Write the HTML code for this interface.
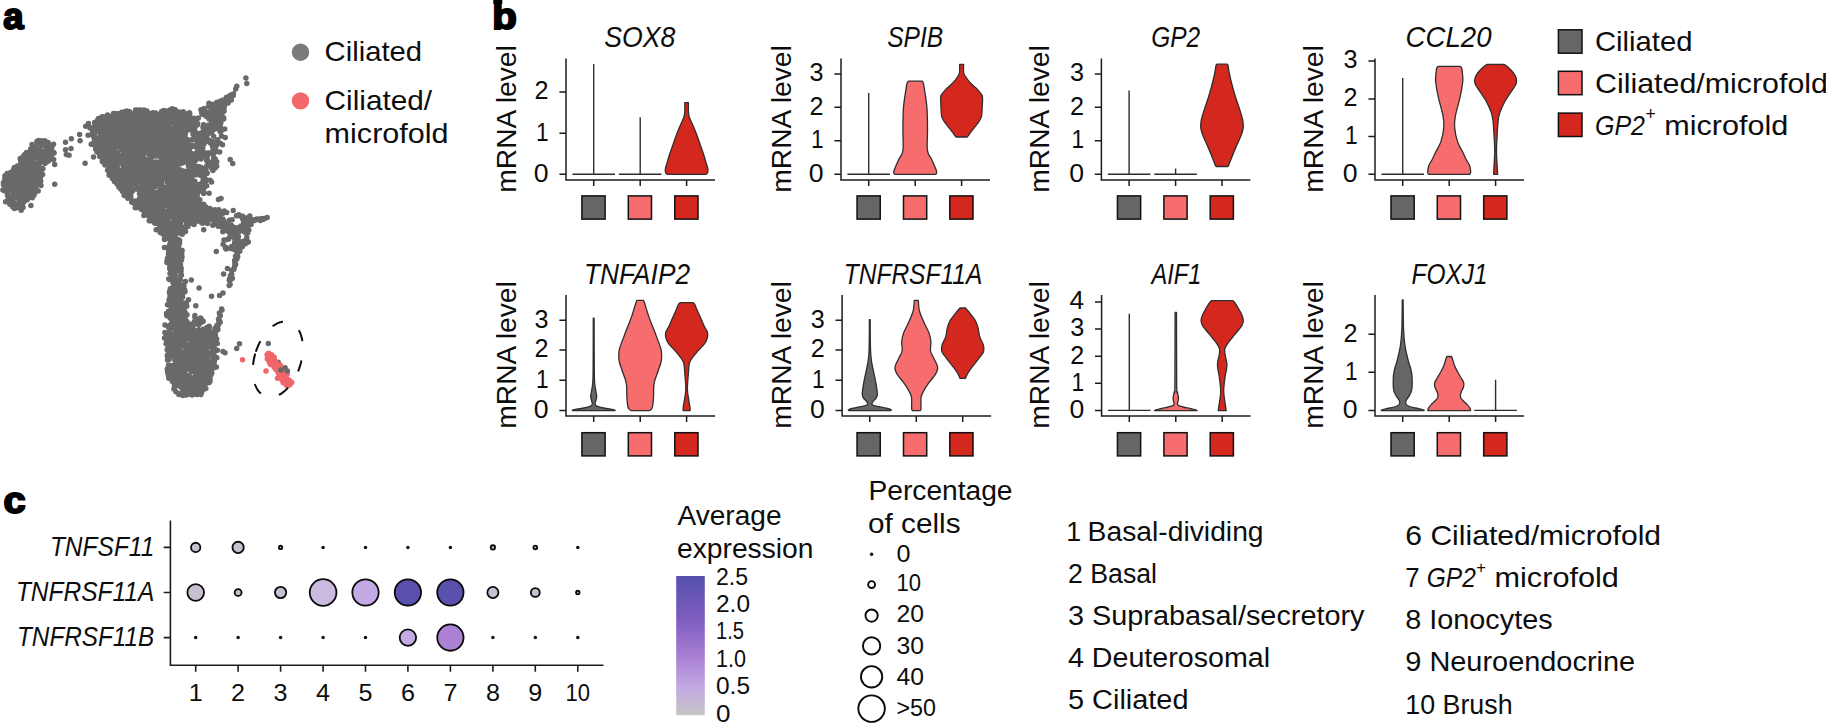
<!DOCTYPE html>
<html lang="en"><head><meta charset="utf-8"><title>Figure</title>
<style>html,body{margin:0;padding:0;background:#fff;overflow:hidden}svg{display:block}</style></head>
<body>
<svg width="1826" height="724" viewBox="0 0 1826 724" font-family='"Liberation Sans", sans-serif' fill="#0d0d0d">
<rect width="1826" height="724" fill="#fff"/>
<text transform="translate(3.3 29.2) scale(1.0 1)" font-size="36.5" font-weight="bold" fill="#000" stroke="#000" stroke-width="2" stroke-linejoin="round">a</text>
<text transform="translate(492.2 29.2) scale(1.1 1)" font-size="36.5" font-weight="bold" fill="#000" stroke="#000" stroke-width="2" stroke-linejoin="round">b</text>
<text transform="translate(3.4 513.2) scale(1.09 1)" font-size="36.5" font-weight="bold" fill="#000" stroke="#000" stroke-width="2" stroke-linejoin="round">c</text>
<rect x="493.3" y="0" width="9" height="4" fill="#000"/>
<path d="M143.6 139.6h0M178.9 205.2h0M101.4 121.3h0M110.4 161.7h0M194.1 382.8h0M185.7 214.7h0M113.8 129.6h0M196.0 207.3h0M180.8 112.8h0M99.7 156.5h0M206.0 168.1h0M166.5 144.9h0M158.8 203.1h0M114.9 147.4h0M128.4 164.8h0M170.4 273.4h0M159.4 206.3h0M183.9 384.5h0M222.4 213.4h0M156.1 125.2h0M124.5 143.1h0M114.9 124.6h0M114.5 170.6h0M147.5 204.7h0M170.2 119.8h0M178.3 331.4h0M144.6 161.7h0M248.8 230.1h0M150.4 160.9h0M127.5 153.6h0M169.5 292.9h0M199.6 371.3h0M169.2 148.1h0M155.6 216.1h0M118.1 132.4h0M199.0 200.5h0M181.0 133.6h0M245.0 226.0h0M124.9 170.5h0M138.5 167.0h0M187.3 172.8h0M159.4 133.6h0M242.3 246.7h0M162.9 149.5h0M182.1 333.0h0M131.1 178.1h0M183.2 325.5h0M241.5 228.9h0M174.9 305.0h0M206.0 361.1h0M182.8 381.5h0M199.5 137.2h0M175.5 197.1h0M122.3 190.8h0M181.9 228.0h0M134.7 133.1h0M184.6 307.4h0M233.2 232.1h0M129.4 127.0h0M123.3 188.8h0M181.4 151.4h0M225.9 225.5h0M172.1 348.3h0M195.5 217.1h0M132.3 143.4h0M136.7 167.5h0M141.2 202.4h0M168.7 247.0h0M140.4 164.7h0M208.8 361.9h0M154.5 193.1h0M211.8 341.5h0M173.6 348.4h0M186.9 366.1h0M178.8 294.8h0M131.7 116.3h0M102.7 138.6h0M167.0 235.9h0M166.1 343.8h0M164.5 175.6h0M226.1 248.9h0M239.0 242.0h0M171.5 231.2h0M140.0 136.5h0M147.0 190.1h0M214.6 349.7h0M208.3 368.8h0M138.0 207.2h0M187.7 203.7h0M160.9 177.6h0M97.8 124.6h0M181.1 313.2h0M146.9 184.5h0M155.3 144.7h0M116.7 157.0h0M240.4 245.3h0M113.0 152.3h0M184.5 364.4h0M214.4 219.6h0M152.4 196.8h0M173.5 285.8h0M134.8 169.4h0M156.2 229.7h0M207.7 367.0h0M107.9 140.7h0M176.6 301.8h0M140.3 132.7h0M205.9 127.8h0M186.7 212.0h0M196.9 363.3h0M168.8 165.3h0M172.6 299.4h0M159.6 172.1h0M200.7 376.0h0M203.2 154.1h0M173.7 156.2h0M172.2 150.8h0M200.4 383.2h0M152.7 207.7h0M144.9 145.3h0M217.2 106.0h0M214.0 367.8h0M146.2 176.7h0M142.4 177.7h0M154.0 170.2h0M190.7 193.6h0M142.9 204.0h0M219.8 117.7h0M130.9 113.4h0M133.8 119.3h0M214.1 352.1h0M184.0 207.4h0M130.9 168.5h0M185.9 193.2h0M174.1 164.2h0M168.7 343.6h0M109.6 151.5h0M233.8 230.7h0M113.3 155.9h0M198.1 155.7h0M202.5 150.1h0M141.7 155.7h0M100.3 124.5h0M196.0 121.4h0M157.9 180.1h0M149.2 220.7h0M236.5 234.3h0M181.5 289.1h0M193.2 206.8h0M173.6 138.1h0M171.3 339.2h0M192.9 345.3h0M120.2 160.2h0M153.6 131.2h0M183.3 324.8h0M181.2 285.0h0M186.6 223.5h0M168.4 126.3h0M120.1 142.8h0M178.0 287.8h0M185.8 203.5h0M200.1 189.0h0M148.8 126.1h0M149.2 162.0h0M168.7 134.7h0M114.6 122.8h0M195.9 359.5h0M219.8 216.3h0M178.1 217.5h0M129.3 111.4h0M181.4 380.8h0M113.4 154.5h0M196.4 341.8h0M127.4 125.7h0M205.3 351.6h0M181.8 226.7h0M133.1 165.7h0M200.4 392.4h0M167.8 349.9h0M205.7 355.3h0M184.6 187.5h0M147.1 136.9h0M107.6 156.4h0M195.2 345.4h0M194.8 181.3h0M106.4 123.5h0M151.0 191.5h0M179.2 159.7h0M171.5 336.8h0M137.0 159.1h0M148.9 216.1h0M173.1 209.4h0M147.7 193.3h0M121.6 185.6h0M206.7 351.1h0M115.5 141.2h0M130.9 193.3h0M176.6 142.7h0M144.3 151.4h0M107.6 156.6h0M185.2 322.2h0M159.8 163.4h0M209.8 362.2h0M194.4 169.9h0M160.2 232.5h0M193.1 218.5h0M202.0 377.5h0M219.1 212.2h0M179.7 312.5h0M174.9 288.7h0M159.4 222.0h0M133.9 162.1h0M177.4 160.4h0M223.0 213.2h0M125.0 133.1h0M183.2 162.6h0M196.0 343.5h0M130.5 185.7h0M169.5 224.4h0M131.4 124.6h0M113.5 164.9h0M133.8 165.1h0M172.6 258.3h0M233.2 95.6h0M170.4 367.5h0M193.7 196.9h0M168.7 254.0h0M162.1 222.5h0M181.9 345.9h0M142.5 184.9h0M220.1 105.8h0M209.9 363.9h0M216.6 124.5h0M198.8 206.2h0M183.2 172.3h0M196.5 378.6h0M96.3 129.9h0M242.5 229.9h0M188.2 379.8h0M158.3 124.7h0M196.9 158.4h0M208.4 354.7h0M170.6 111.8h0M194.5 221.2h0M184.0 182.8h0M206.7 346.1h0M189.7 187.8h0M189.8 367.1h0M184.9 177.2h0M203.6 372.5h0M147.4 119.6h0M181.8 337.0h0M167.1 156.7h0M186.1 367.3h0M187.7 151.3h0M121.8 148.7h0M170.6 266.7h0M217.3 343.5h0M123.2 148.8h0M182.4 359.3h0M189.2 214.9h0M196.3 385.5h0M201.1 213.6h0M164.3 142.3h0M132.3 201.0h0M197.3 394.4h0M99.1 137.8h0M202.3 184.8h0M188.1 324.9h0M132.5 131.5h0M169.8 145.0h0M129.4 137.3h0M209.0 153.1h0M165.0 197.3h0M194.2 137.2h0M126.6 110.9h0M115.7 176.3h0M200.9 158.0h0M169.2 181.0h0M132.6 155.1h0M184.8 135.7h0M208.1 153.6h0M103.0 120.3h0M135.3 156.5h0M123.4 113.7h0M211.6 218.2h0M150.8 143.5h0M175.1 255.5h0M120.1 124.9h0M94.8 123.0h0M206.0 153.1h0M97.3 131.2h0M171.8 246.4h0M136.3 130.8h0M157.2 135.4h0M188.2 356.4h0M213.9 143.8h0M154.4 221.9h0M129.8 195.9h0M195.0 204.8h0M178.0 114.7h0M93.3 136.1h0M195.0 340.6h0M137.6 186.8h0M188.6 385.4h0M175.2 175.5h0M110.4 133.7h0M137.7 167.9h0M184.6 292.1h0M141.4 167.5h0M218.1 142.0h0M162.9 112.5h0M108.0 162.3h0M192.2 353.0h0M153.7 191.9h0M172.8 229.1h0M120.4 186.4h0M186.5 120.4h0M175.8 251.5h0M203.7 212.5h0M185.2 362.1h0M177.9 342.6h0M175.0 127.3h0M115.8 182.1h0M174.8 247.7h0M121.1 149.3h0M200.8 153.6h0M172.5 262.5h0M185.3 219.1h0M110.0 141.4h0M216.0 126.1h0M106.4 145.6h0M176.6 344.8h0M191.7 339.8h0M118.0 175.0h0M186.6 200.1h0M164.6 211.3h0M186.6 386.5h0M189.9 386.6h0M126.6 188.0h0M235.3 241.4h0M153.9 216.7h0M100.7 131.2h0M130.5 152.0h0M136.9 166.0h0M146.5 141.2h0M209.9 208.6h0M173.7 163.0h0M165.0 133.6h0M207.2 173.2h0M187.5 205.9h0M180.0 176.1h0M218.1 211.0h0M139.2 113.7h0M141.5 162.7h0M206.0 169.4h0M116.7 154.1h0M184.6 312.3h0M214.4 119.9h0M205.3 213.7h0M214.0 346.5h0M136.5 121.0h0M247.1 223.0h0M212.6 346.9h0M216.4 106.9h0M206.6 339.5h0M180.2 169.8h0M158.2 155.1h0M141.4 135.3h0M129.3 167.4h0M175.5 229.4h0M180.9 325.7h0M137.9 203.6h0M124.1 112.0h0M136.5 153.8h0M167.7 204.4h0M117.7 115.5h0M214.5 119.2h0M183.5 126.8h0M171.1 226.1h0M131.6 168.7h0M139.0 150.3h0M195.9 351.7h0M143.0 206.1h0M181.4 206.3h0M194.2 343.8h0M207.1 369.9h0M160.5 180.0h0M159.8 197.0h0M117.1 183.9h0M147.7 153.2h0M192.8 341.2h0M191.0 184.3h0M184.7 384.4h0M169.7 291.2h0M139.5 198.4h0M164.1 119.6h0M199.6 207.1h0M186.3 220.7h0M108.8 148.7h0M131.9 122.6h0M178.0 170.4h0M171.1 262.7h0M187.6 118.1h0M157.6 116.0h0M181.3 311.7h0M215.6 128.6h0M154.9 145.9h0M218.8 111.2h0M125.2 185.1h0M207.4 223.6h0M193.0 359.8h0M183.4 373.6h0M132.1 152.5h0M186.4 128.3h0M93.3 127.3h0M181.9 182.1h0M204.0 209.8h0M179.3 304.0h0M95.7 149.2h0M202.7 213.4h0M168.9 141.9h0M186.1 195.5h0M135.1 177.0h0M172.9 173.6h0M150.1 179.5h0M195.4 200.6h0M181.3 217.5h0M169.8 205.7h0M130.3 165.3h0M147.8 135.0h0M165.1 229.6h0M184.3 185.9h0M117.9 113.8h0M139.9 187.8h0M103.1 148.2h0M186.3 395.0h0M117.2 175.4h0M206.9 160.2h0M156.2 154.7h0M190.0 357.3h0M197.5 153.6h0M189.7 117.8h0M146.5 135.3h0M197.7 217.3h0M193.9 195.7h0M172.0 276.1h0M183.6 395.0h0M105.3 141.3h0M198.7 329.9h0M182.1 149.1h0M114.6 147.8h0M172.7 287.7h0M166.3 192.4h0M197.1 216.2h0M183.6 218.7h0M194.0 162.0h0M131.7 173.7h0M161.9 164.2h0M196.6 184.7h0M184.5 141.4h0M93.9 127.6h0M212.1 123.4h0M170.8 135.0h0M161.0 148.2h0M203.7 138.8h0M172.3 374.0h0M147.9 159.3h0M119.3 174.4h0M174.4 218.2h0M182.3 204.3h0M181.0 304.3h0M209.1 215.5h0M153.9 218.7h0M191.3 208.7h0M129.8 154.2h0M181.0 189.9h0M213.8 354.1h0M174.6 274.4h0M180.1 161.7h0M191.6 174.5h0M169.0 161.1h0M177.7 253.5h0M177.5 341.8h0M129.5 146.2h0M196.3 346.1h0M110.2 140.6h0M131.6 125.0h0M176.4 231.8h0M164.5 239.6h0M146.3 209.9h0M143.7 167.4h0M195.5 355.7h0M163.3 205.7h0M197.5 341.1h0M148.4 211.2h0M186.0 375.9h0M144.6 115.2h0M172.3 368.7h0M166.7 234.7h0M229.3 220.2h0M168.5 365.3h0M212.9 216.2h0M181.8 328.4h0M106.7 120.5h0M135.4 173.7h0M141.8 171.4h0M174.7 221.9h0M171.1 271.8h0M178.4 218.4h0M183.7 192.3h0M188.9 148.6h0M202.0 183.6h0M124.2 124.4h0M247.8 220.2h0M199.3 172.2h0M138.6 164.6h0M186.5 190.9h0M183.0 140.6h0M177.3 182.3h0M172.3 377.4h0M179.7 120.6h0M113.0 176.4h0M164.5 169.1h0M213.2 148.2h0M175.1 123.3h0M197.3 133.9h0M185.9 201.3h0M117.0 145.4h0M169.6 139.1h0M178.9 129.5h0M167.6 143.7h0M178.8 248.3h0M150.8 153.9h0M156.9 155.7h0M110.9 166.8h0M234.6 246.7h0M184.6 303.9h0M115.3 174.2h0M175.9 182.7h0M188.7 332.9h0M246.1 219.3h0M157.5 120.5h0M202.6 139.8h0M147.0 136.4h0M122.7 160.6h0M169.5 245.4h0M147.8 143.1h0M187.9 226.5h0M178.2 382.3h0M207.9 213.2h0M203.3 381.0h0M188.7 348.8h0M165.8 196.0h0M138.4 120.5h0M150.0 162.0h0M148.4 124.4h0M181.7 356.8h0M175.2 208.6h0M202.2 370.5h0M172.6 204.6h0M182.4 230.2h0M214.4 104.3h0M143.8 135.4h0M180.3 222.0h0M135.9 143.0h0M185.4 345.7h0M212.5 145.7h0M122.6 191.5h0M162.6 126.7h0M134.2 155.9h0M240.8 231.0h0M177.8 181.6h0M194.5 172.9h0M218.0 106.2h0M133.9 167.9h0M197.0 388.8h0M218.5 214.0h0M146.6 213.4h0M146.1 113.7h0M185.8 216.8h0M185.2 177.2h0M173.0 367.8h0M191.6 177.6h0M125.2 161.9h0M194.4 136.0h0M135.5 111.6h0M224.0 105.7h0M146.3 194.6h0M184.3 160.1h0M219.1 102.3h0M173.7 223.0h0M187.7 162.7h0M165.4 197.9h0M136.8 152.9h0M162.7 153.9h0M206.8 153.6h0M100.2 156.4h0M133.6 202.1h0M97.2 147.1h0M106.8 126.2h0M169.0 344.4h0M111.1 126.8h0M124.6 170.5h0M207.8 382.1h0M211.5 210.8h0M193.6 363.8h0M170.3 288.8h0M124.0 167.9h0M110.8 154.6h0M162.9 114.2h0M168.0 215.7h0M189.4 112.7h0M96.2 122.2h0M215.6 125.3h0M182.2 344.3h0M173.3 282.8h0M188.6 337.6h0M180.5 182.4h0M165.9 130.9h0M197.8 156.8h0M161.1 127.3h0M148.4 122.3h0M211.2 352.9h0M150.9 186.0h0M190.6 392.3h0M102.3 128.3h0M176.2 232.7h0M197.6 373.3h0M211.6 336.7h0M203.0 353.0h0M131.8 185.3h0M147.7 192.6h0M178.0 292.0h0M179.3 379.9h0M204.4 388.9h0M104.7 158.4h0M131.1 172.1h0M124.6 172.8h0M205.3 186.4h0M113.4 128.0h0M119.4 124.1h0M228.1 103.0h0M113.7 123.2h0M126.9 113.4h0M108.3 169.4h0M127.0 152.8h0M168.2 359.0h0M118.7 164.0h0M163.0 129.7h0M182.0 115.4h0M183.3 359.2h0M177.0 166.8h0M125.1 119.0h0M165.1 190.6h0M149.8 130.1h0M162.8 136.5h0M186.7 380.3h0M174.8 383.0h0M193.0 159.6h0M183.2 310.8h0M112.7 167.0h0M114.6 135.4h0M176.6 271.0h0M128.7 144.7h0M199.8 356.1h0M246.4 218.0h0M137.9 181.8h0M109.2 168.0h0M184.6 149.0h0M204.8 171.6h0M176.9 300.3h0M201.5 337.6h0M197.4 148.6h0M126.8 159.2h0M159.7 117.3h0M186.6 381.2h0M185.7 202.2h0M189.7 352.9h0M178.7 315.1h0M135.1 115.0h0M128.0 174.5h0M93.0 128.5h0M169.4 172.5h0M98.9 119.2h0M116.8 121.5h0M171.5 151.1h0M98.3 140.6h0M204.9 211.2h0M209.0 163.6h0M128.2 122.1h0M112.8 152.4h0M186.6 126.5h0M195.2 167.1h0M178.4 314.7h0M126.5 182.4h0M192.0 368.8h0M123.8 188.6h0M199.9 173.2h0M116.0 162.7h0M141.3 189.9h0M191.1 120.8h0M235.6 234.5h0M122.7 130.1h0M174.0 252.7h0M177.8 330.3h0M107.5 115.0h0M126.7 190.7h0M169.1 311.0h0M155.3 122.3h0M112.2 126.1h0M101.5 143.6h0M178.2 347.9h0M117.9 146.6h0M216.9 223.5h0M146.0 131.2h0M109.2 172.8h0M212.9 365.8h0M111.3 152.7h0M131.0 171.5h0M143.2 146.3h0M150.6 207.9h0M148.4 209.0h0M108.1 162.9h0M195.5 364.4h0M198.8 209.8h0M179.4 196.3h0M180.8 232.7h0M127.5 115.2h0M194.9 366.7h0M185.1 125.9h0M187.4 346.7h0M176.0 241.3h0M200.4 157.1h0M150.0 204.5h0M161.2 121.8h0M176.8 344.0h0M161.8 209.8h0M207.8 377.4h0M123.3 185.7h0M173.0 297.6h0M223.3 223.0h0M189.9 172.7h0M175.1 236.5h0M246.7 228.7h0M202.4 137.0h0M122.9 142.8h0M140.2 143.0h0M126.1 119.5h0M121.9 190.0h0M173.7 149.6h0M169.5 227.8h0M246.8 237.5h0M113.8 145.2h0M160.5 201.0h0M204.6 213.2h0M242.7 216.2h0M161.7 184.6h0M181.9 295.9h0M156.7 149.3h0M222.8 101.8h0M172.2 204.5h0M178.2 377.2h0M145.1 211.7h0M191.0 333.5h0M179.4 177.8h0M114.2 163.2h0M181.4 375.0h0M161.9 152.5h0M214.1 355.6h0M153.9 122.0h0M189.0 391.7h0M108.5 143.1h0M201.6 389.5h0M162.0 212.9h0M131.9 164.6h0M119.7 140.1h0M185.5 231.4h0M189.7 196.4h0M183.0 137.1h0M222.4 220.0h0M210.9 218.4h0M142.4 208.5h0M171.0 177.6h0M185.1 370.5h0M187.3 224.0h0M197.6 123.4h0M171.9 313.9h0M136.0 206.7h0M202.7 109.9h0M179.7 319.6h0M152.4 169.6h0M225.2 103.8h0M169.2 120.1h0M120.6 135.3h0M145.7 143.6h0M231.9 229.0h0M157.1 144.8h0M171.8 175.3h0M186.6 388.7h0M123.8 131.4h0M183.4 383.0h0M203.7 204.2h0M181.7 156.4h0M174.1 129.7h0M203.5 376.4h0M187.8 345.2h0M175.5 192.3h0M199.8 384.6h0M181.4 203.2h0M113.3 141.9h0M173.4 268.9h0M182.9 219.6h0M129.9 121.9h0M169.2 211.9h0M228.5 231.7h0M173.4 375.5h0M101.4 118.7h0M144.9 120.7h0M174.9 379.5h0M130.4 140.8h0M140.5 192.6h0M161.1 144.3h0M97.3 131.0h0M145.5 124.9h0M174.7 144.9h0M122.8 120.4h0M145.5 174.8h0M161.4 141.1h0M171.0 152.8h0M168.5 136.7h0M170.2 132.4h0M185.9 391.6h0M208.9 128.8h0M170.1 196.6h0M187.5 161.5h0M173.5 221.4h0M200.2 150.2h0M178.2 177.8h0M174.7 208.1h0M207.6 343.4h0M170.0 316.7h0M149.3 187.1h0M201.2 388.6h0M145.8 126.7h0M170.8 206.3h0M208.1 366.9h0M162.8 222.2h0M120.3 141.8h0M160.8 152.3h0M239.8 227.7h0M154.6 209.4h0M138.6 154.7h0M185.3 191.9h0M174.6 130.9h0M125.2 188.6h0M159.0 204.5h0M187.4 208.7h0M153.0 163.1h0M193.7 331.0h0M105.3 121.4h0M174.2 181.9h0M174.7 244.3h0M149.3 196.0h0M137.0 119.4h0M178.2 193.6h0M156.6 143.0h0M164.0 217.5h0M172.4 237.8h0M122.6 146.4h0M184.8 161.4h0M184.0 323.5h0M109.9 142.3h0M138.4 178.7h0M127.6 121.5h0M191.6 356.7h0M166.9 333.5h0M165.6 153.6h0M213.6 347.3h0M155.6 162.0h0M168.2 248.3h0M170.0 208.6h0M186.0 160.1h0M225.3 226.9h0M201.7 384.4h0M121.2 124.3h0M114.6 161.1h0M179.2 227.8h0M173.5 349.0h0M179.2 160.0h0M210.6 163.3h0M185.0 291.4h0M204.7 140.4h0M181.3 317.3h0M131.1 119.3h0M131.8 119.9h0M171.1 170.0h0M209.9 128.4h0M144.5 126.6h0M205.7 331.8h0M215.6 219.3h0M141.7 115.8h0M163.0 227.0h0M229.9 237.0h0M145.8 132.7h0M180.5 340.2h0M151.1 148.4h0M158.8 130.9h0M176.7 185.2h0M162.2 163.2h0M197.2 347.7h0M136.1 127.0h0M135.7 140.2h0M176.1 223.4h0M103.3 121.2h0M159.1 170.5h0M172.4 150.6h0M162.4 179.6h0M187.1 184.9h0M172.2 163.5h0M173.5 313.2h0M151.9 219.4h0M191.5 155.9h0M119.0 172.7h0M97.0 151.9h0M154.8 223.3h0M175.5 151.0h0M167.2 349.7h0M208.6 380.1h0M168.8 189.0h0M201.1 145.6h0M140.1 175.2h0M162.2 209.5h0M130.7 181.1h0M181.2 341.7h0M185.1 331.4h0M184.0 193.1h0M207.2 377.8h0M163.8 234.5h0M203.4 366.0h0M111.0 135.0h0M171.7 195.6h0M194.8 146.5h0M129.3 186.6h0M171.5 214.2h0M205.8 388.5h0M157.0 124.8h0M211.4 337.9h0M189.2 128.9h0M189.4 359.4h0M185.7 209.2h0M192.3 194.9h0M180.1 376.9h0M184.0 372.4h0M207.0 382.6h0M221.1 103.0h0M197.5 337.9h0M187.3 384.9h0M153.9 199.2h0M182.6 329.8h0M180.8 376.8h0M115.7 134.4h0M186.3 130.8h0M195.1 347.7h0M203.5 352.7h0M184.0 177.7h0M200.1 360.2h0M146.4 167.5h0M206.0 132.4h0M153.8 183.0h0M125.4 192.9h0M245.9 230.8h0M184.0 356.8h0M132.4 172.5h0M217.5 141.4h0M169.8 210.3h0M152.3 131.3h0M167.6 372.0h0M167.7 219.1h0M152.2 220.2h0M185.6 365.3h0M150.6 126.4h0M253.1 219.8h0M160.6 169.9h0M183.4 156.8h0M98.7 142.2h0M204.3 209.7h0M140.0 114.0h0M181.8 293.3h0M128.5 150.3h0M196.0 124.2h0M145.4 164.0h0M229.9 97.5h0M139.9 164.5h0M185.0 342.5h0M180.4 212.1h0M181.3 324.2h0M201.0 156.5h0M122.7 188.4h0M146.8 122.9h0M185.8 146.4h0M211.4 129.2h0M183.1 171.4h0M143.2 154.2h0M125.1 129.2h0M150.8 130.1h0M119.7 169.9h0M177.2 329.9h0M190.9 123.7h0M172.6 296.6h0M109.4 139.0h0M177.6 146.8h0M193.3 356.4h0M110.8 160.0h0M180.5 380.9h0M189.7 124.1h0M168.2 341.5h0M202.4 223.3h0M171.7 243.5h0M134.0 166.6h0M184.5 365.2h0M174.8 250.1h0M141.8 131.4h0M242.8 241.4h0M188.7 330.3h0M124.7 126.1h0M197.5 331.5h0M175.6 265.2h0M171.9 324.6h0M185.0 133.0h0M160.6 222.2h0M149.9 213.0h0M160.7 207.0h0M150.8 166.6h0M167.1 192.4h0M154.2 164.9h0M188.5 394.3h0M192.3 124.0h0M187.6 222.1h0M211.2 130.8h0M127.8 198.2h0M185.0 192.7h0M190.5 127.4h0M195.9 198.2h0M95.4 131.5h0M183.0 145.8h0M187.2 177.7h0M117.3 152.3h0M111.7 158.8h0M203.1 210.0h0M134.9 134.8h0M177.3 156.7h0M161.8 114.6h0M133.0 158.2h0M144.1 169.5h0M138.2 179.1h0M117.1 172.4h0M177.6 344.5h0M187.2 224.7h0M139.2 124.4h0M203.1 179.7h0M135.1 120.1h0M191.6 200.4h0M108.2 146.7h0M238.4 236.5h0M203.9 335.9h0M157.7 141.0h0M199.3 191.0h0M112.0 143.9h0M156.7 132.3h0M181.6 216.8h0M109.3 171.5h0M179.3 124.4h0M207.1 336.4h0M142.5 138.0h0M151.6 198.4h0M213.7 363.0h0M150.0 177.2h0M140.5 119.5h0M106.9 135.9h0M217.8 141.3h0M177.5 368.5h0M214.0 215.1h0M169.4 178.4h0M202.9 186.4h0M171.1 353.0h0M208.5 344.9h0M110.3 116.9h0M184.5 191.8h0M163.7 187.7h0M190.0 199.4h0M210.6 345.7h0M102.3 131.3h0M147.2 132.1h0M126.6 161.3h0M168.1 235.2h0M171.0 147.2h0M144.5 186.8h0M187.8 345.6h0M178.7 385.7h0M183.0 203.7h0M185.8 378.6h0M113.7 117.4h0M166.1 336.1h0M201.1 350.9h0M243.0 227.7h0M188.1 224.5h0M208.3 133.8h0M161.5 166.0h0M187.5 392.9h0M124.6 116.5h0M201.1 206.6h0M160.2 150.4h0M166.9 261.4h0M144.4 161.6h0M245.8 226.9h0M198.2 358.1h0M194.9 155.3h0M232.1 219.8h0M219.3 212.8h0M176.9 222.1h0M194.6 189.0h0M146.4 200.1h0M175.6 165.2h0M253.2 220.3h0M186.4 394.8h0M172.3 307.8h0M176.2 327.7h0M185.1 218.2h0M184.0 117.0h0M192.1 156.4h0M209.8 345.6h0M192.7 163.0h0M183.6 214.1h0M134.5 138.9h0M179.6 240.6h0M108.4 161.4h0M199.2 133.6h0M153.3 156.2h0M130.3 192.6h0M158.7 203.4h0M165.8 156.3h0M183.1 129.4h0M192.9 209.0h0M153.2 124.2h0M112.4 178.4h0M177.0 354.1h0M178.7 145.3h0M130.0 138.5h0M104.4 160.5h0M189.7 118.1h0M155.5 222.8h0M179.6 349.9h0M179.3 312.4h0M195.9 386.4h0M162.8 164.2h0M172.2 380.6h0M164.1 202.7h0M178.3 187.7h0M101.5 146.0h0M163.6 199.9h0M172.9 255.4h0M154.4 134.4h0M148.3 191.1h0M111.9 156.5h0M151.1 215.5h0M188.6 346.4h0M186.5 113.9h0M151.1 177.7h0M237.9 239.5h0M132.6 139.6h0M172.3 108.8h0M185.2 357.0h0M167.7 126.5h0M191.1 356.3h0M117.2 166.9h0M167.9 136.6h0M173.9 388.9h0M164.7 125.6h0M120.7 178.9h0M191.4 122.6h0M214.5 222.9h0M97.7 119.9h0M175.5 258.2h0M163.9 193.5h0M109.8 126.0h0M195.6 389.2h0M109.5 159.5h0M193.5 355.4h0M108.7 161.5h0M198.3 117.9h0M107.6 170.2h0M183.8 354.7h0M185.8 394.9h0M186.5 191.7h0M168.5 311.2h0M194.5 181.7h0M178.3 161.8h0M148.9 171.0h0M203.3 142.5h0M107.0 159.9h0M175.8 179.5h0M148.6 154.0h0M97.1 131.6h0M197.1 340.0h0M185.5 149.1h0M145.0 139.2h0M197.2 369.7h0M217.5 116.7h0M245.4 243.8h0M179.4 369.0h0M171.7 193.2h0M166.3 177.7h0M127.8 141.8h0M170.2 294.4h0M174.8 310.3h0M171.6 210.8h0M198.5 141.9h0M215.6 349.9h0M149.9 117.1h0M171.2 260.0h0M178.7 245.4h0M132.8 161.7h0M175.3 125.4h0M149.5 116.3h0M150.3 177.9h0M197.2 212.3h0M177.4 358.5h0M102.1 116.7h0M212.6 141.6h0M180.8 345.2h0M201.0 148.0h0M146.0 192.9h0M144.3 117.2h0M178.4 286.0h0M162.9 234.0h0M177.1 239.7h0M113.3 138.3h0M174.0 337.4h0M161.6 111.6h0M197.8 138.2h0M121.4 134.1h0M181.0 200.8h0M182.4 312.9h0M104.1 127.9h0M114.2 149.7h0M128.7 168.6h0M120.2 137.7h0M163.1 121.6h0M131.7 157.7h0M174.5 385.4h0M93.9 133.2h0M162.3 223.3h0M135.5 130.8h0M185.7 178.1h0M143.9 118.0h0M170.7 253.2h0M120.6 186.8h0M172.4 128.0h0M186.1 199.5h0M137.1 150.7h0M181.6 154.7h0M228.6 238.9h0M203.3 214.8h0M202.6 349.9h0M127.2 134.5h0M181.7 383.1h0M174.2 258.3h0M166.6 219.3h0M204.5 127.6h0M204.9 377.0h0M148.5 123.4h0M224.0 240.1h0M154.9 221.7h0M100.4 156.3h0M118.8 187.1h0M163.7 164.8h0M189.1 128.0h0M176.2 291.3h0M192.2 371.2h0M159.1 179.9h0M167.5 359.9h0M182.8 320.7h0M192.6 208.1h0M168.6 255.5h0M200.7 145.0h0M126.4 153.4h0M191.9 192.6h0M230.6 248.5h0M194.9 166.4h0M205.5 217.5h0M169.1 239.1h0M214.3 115.9h0M174.6 172.8h0M187.7 172.8h0M124.1 164.3h0M194.7 128.0h0M176.0 244.7h0M208.0 356.1h0M167.2 368.9h0M185.1 317.9h0M201.2 215.8h0M172.7 248.6h0M125.7 173.3h0M174.6 268.5h0M203.0 127.3h0M202.5 152.1h0M177.4 116.8h0M186.3 304.4h0M146.3 132.6h0M183.4 134.7h0M164.6 134.5h0M192.4 211.8h0M159.9 189.9h0M198.1 362.9h0M173.9 352.9h0M201.6 112.7h0M169.3 175.6h0M190.8 214.7h0M187.6 365.3h0M136.7 177.5h0M120.5 127.9h0M140.3 113.9h0M104.9 130.9h0M198.0 185.1h0M215.1 107.9h0M169.0 158.3h0M176.4 359.3h0M174.3 271.7h0M174.5 303.7h0M236.2 251.0h0M109.7 172.7h0M141.9 201.7h0M171.4 183.5h0M194.4 386.2h0M158.9 200.5h0M166.9 315.8h0M146.3 147.7h0M168.9 133.8h0M198.3 219.1h0M214.0 341.6h0M214.3 148.5h0M181.4 118.4h0M121.1 146.7h0M116.3 136.5h0M180.2 337.3h0M174.1 326.7h0M122.8 178.8h0M206.7 140.9h0M176.1 292.3h0M175.5 328.2h0M180.8 219.9h0M145.5 213.9h0M126.6 188.8h0M214.0 363.9h0M175.5 320.8h0M219.6 211.8h0M147.3 128.1h0M184.6 217.1h0M121.3 121.4h0M200.6 171.3h0M170.7 328.0h0M196.3 371.2h0M178.6 116.2h0M174.5 336.3h0M124.5 138.0h0M207.3 379.5h0M182.6 384.5h0M93.6 133.9h0M157.1 121.7h0M169.3 207.3h0M119.8 116.4h0M181.4 386.8h0M177.3 209.2h0M183.6 121.1h0M215.0 341.5h0M212.2 210.0h0M208.1 154.5h0M121.8 147.0h0M197.5 330.6h0M114.6 119.0h0M183.4 367.7h0M164.3 168.0h0M183.6 188.7h0M195.6 197.1h0M183.5 153.9h0M100.2 148.7h0M127.7 160.0h0M195.7 376.0h0M171.6 246.0h0M171.5 232.0h0M176.1 144.8h0M126.1 130.8h0M185.4 133.4h0M137.3 113.7h0M132.1 152.0h0M175.9 329.8h0M177.8 189.6h0M200.9 383.3h0M201.1 386.3h0M146.0 125.2h0M199.8 383.2h0M126.8 117.7h0M133.8 173.7h0M214.1 342.9h0M162.4 231.3h0M161.6 202.7h0M241.3 226.2h0M174.3 257.9h0M219.9 111.3h0M177.2 241.3h0M198.2 140.7h0M211.2 219.5h0M184.8 121.2h0M130.8 196.5h0M197.8 146.7h0M170.4 176.2h0M183.7 303.6h0M175.9 322.6h0M193.3 119.1h0M163.9 232.4h0M172.5 207.3h0M136.8 183.2h0M185.9 207.3h0M111.3 162.2h0M94.2 127.8h0M141.3 134.4h0M161.6 204.6h0M113.1 144.3h0M216.5 114.1h0M150.6 194.0h0M150.5 161.0h0M163.3 188.5h0M167.8 354.6h0M156.4 222.4h0M177.4 202.0h0M183.2 338.9h0M172.0 238.7h0M170.3 318.3h0M153.2 200.8h0M159.8 129.6h0M172.8 250.6h0M194.0 391.6h0M183.4 319.4h0M171.8 289.9h0M177.0 290.8h0M159.6 205.5h0M182.8 289.6h0M172.8 160.4h0M185.4 150.0h0M179.8 192.8h0M186.2 302.8h0M181.0 370.4h0M192.2 217.9h0M193.4 219.4h0M185.2 347.0h0M141.4 170.3h0M96.0 126.1h0M137.8 207.5h0M196.2 201.6h0M201.1 139.5h0M204.6 142.6h0M174.7 293.8h0M172.3 215.0h0M161.8 216.3h0M169.2 180.3h0M185.9 329.6h0M128.1 186.1h0M155.3 153.2h0M170.8 109.5h0M149.9 117.2h0M181.9 329.5h0M109.3 123.8h0M221.4 219.2h0M173.7 259.5h0M224.8 230.3h0M182.3 319.6h0M145.2 143.6h0M195.5 160.6h0M94.5 135.2h0M165.5 235.4h0M131.9 121.5h0M99.2 139.7h0M156.4 144.5h0M166.8 143.5h0M212.0 360.9h0M143.6 115.5h0M170.1 365.6h0M230.9 226.8h0M174.9 352.6h0M152.9 171.5h0M141.2 201.2h0M161.9 125.8h0M150.5 182.4h0M247.4 222.0h0M188.8 180.2h0M228.4 224.6h0M197.4 338.7h0M105.5 145.0h0M196.4 187.0h0M170.6 247.3h0M184.4 382.4h0M147.5 211.8h0M178.9 394.4h0M190.8 117.7h0M203.9 144.0h0M199.0 393.4h0M150.6 144.4h0M165.6 136.6h0M168.6 123.8h0M169.0 348.7h0M192.5 168.0h0M175.1 224.9h0M229.8 232.5h0M98.5 118.4h0M142.6 117.0h0M188.9 129.8h0M145.6 206.2h0M177.7 350.1h0M208.5 220.5h0M223.6 220.7h0M176.4 137.9h0M118.2 182.4h0M192.9 214.4h0M188.4 217.8h0M153.2 217.5h0M208.4 361.0h0M156.8 220.7h0M173.5 166.0h0M173.7 110.7h0M182.8 204.8h0M180.4 218.6h0M193.8 363.2h0M142.8 111.9h0M189.3 323.7h0M154.5 192.4h0M196.1 194.1h0M205.0 184.4h0M120.9 175.7h0M171.1 229.2h0M167.2 182.0h0M193.9 118.2h0M126.9 179.5h0M132.6 202.0h0M225.5 226.1h0M203.7 128.0h0M154.8 198.6h0M167.3 205.2h0M202.8 147.6h0M179.9 175.9h0M197.6 186.3h0M167.2 338.9h0M185.1 161.4h0M139.0 125.0h0M137.9 158.7h0M190.2 223.5h0M168.2 150.7h0M201.6 348.2h0M209.9 127.8h0M205.9 218.4h0M247.3 227.3h0M186.7 118.5h0M198.7 346.1h0M174.2 182.3h0M174.9 232.5h0M216.4 367.1h0M162.4 141.0h0M171.7 243.2h0M125.1 180.2h0M180.7 386.8h0M159.3 229.0h0M194.3 222.2h0M182.3 315.4h0M185.1 306.4h0M154.6 138.7h0M150.2 192.9h0M177.0 240.1h0M174.2 388.7h0M157.6 198.5h0M166.5 313.4h0M186.3 221.9h0M188.8 330.2h0M176.8 168.1h0M213.0 147.9h0M180.8 375.0h0M200.9 159.1h0M241.0 226.1h0M147.1 151.9h0M113.8 166.0h0M191.5 218.1h0M159.2 136.2h0M162.4 232.0h0M123.9 136.1h0M205.5 206.8h0M183.3 205.9h0M134.0 143.4h0M127.9 141.6h0M182.8 330.9h0M206.5 347.3h0M159.9 226.9h0M141.5 168.3h0M181.2 158.2h0M138.9 125.6h0M134.9 169.0h0M210.1 373.4h0M186.3 186.7h0M97.0 129.8h0M158.6 138.7h0M193.7 363.8h0M190.9 329.1h0M162.0 142.5h0M169.7 311.3h0M175.9 382.0h0M183.9 135.1h0M176.4 329.3h0M99.2 138.9h0M148.2 214.5h0M184.1 180.3h0M139.8 152.4h0M150.5 129.5h0M188.8 196.6h0M181.3 293.7h0M104.3 161.7h0M185.1 373.7h0M161.8 230.3h0M117.6 177.3h0M184.6 185.7h0M245.5 228.0h0M137.3 126.3h0M120.2 174.0h0M142.1 159.4h0M117.7 162.7h0M176.0 276.6h0M190.7 384.3h0M202.0 211.0h0M128.5 124.1h0M181.8 145.5h0M136.7 184.4h0M151.6 220.7h0M180.8 342.1h0M176.7 250.0h0M148.2 150.1h0M125.2 120.9h0M181.0 174.4h0M142.8 119.4h0M187.4 215.5h0M170.0 243.8h0M140.4 148.1h0M158.9 223.7h0M161.7 171.7h0M169.7 268.7h0M207.8 153.2h0M174.1 375.8h0M133.0 133.9h0M184.7 378.3h0M209.2 355.7h0M186.5 220.6h0M125.9 114.2h0M194.3 164.7h0M174.2 191.7h0M240.7 243.0h0M199.6 370.7h0M117.1 171.7h0M122.0 126.2h0M226.2 247.4h0M111.0 167.5h0M146.9 202.6h0M199.4 167.3h0M170.9 348.1h0M170.0 273.4h0M177.5 199.1h0M218.2 226.3h0M146.1 208.5h0M196.3 184.7h0M213.0 150.2h0M137.2 187.1h0M173.7 214.1h0M153.6 178.6h0M160.9 213.9h0M186.9 388.7h0M175.4 201.8h0M115.1 151.2h0M236.7 235.0h0M168.0 166.0h0M155.2 210.9h0M124.9 157.8h0M156.0 162.4h0M169.0 146.5h0M189.8 198.8h0M200.5 332.5h0M157.0 210.4h0M102.9 158.2h0M193.1 339.9h0M179.4 298.9h0M144.5 205.4h0M138.7 144.6h0M177.0 307.9h0M177.2 245.9h0M201.1 222.3h0M184.3 305.8h0M153.4 215.4h0M146.8 167.8h0M166.2 133.7h0M98.7 120.3h0M141.8 162.9h0M140.1 176.8h0M180.3 382.9h0M172.8 228.2h0M135.7 181.9h0M224.3 211.1h0M195.2 136.5h0M175.4 195.1h0M186.2 126.9h0M181.9 151.2h0M163.7 174.3h0M196.3 331.4h0M148.2 181.6h0M172.3 188.2h0M190.1 120.8h0M173.9 322.3h0M202.9 132.7h0M134.2 143.3h0M183.6 359.9h0M128.6 175.7h0M161.1 207.6h0M209.8 162.8h0M93.9 142.4h0M158.7 136.9h0M203.3 206.9h0M112.8 156.8h0M166.7 341.7h0M216.7 220.3h0M201.8 142.8h0M114.6 145.7h0M161.3 146.4h0M173.8 119.3h0M173.1 350.2h0M194.7 118.9h0M178.0 147.8h0M136.1 130.4h0M201.9 339.7h0M206.8 136.5h0M169.7 149.6h0M170.3 293.6h0M192.8 327.3h0M195.8 383.2h0M186.3 356.7h0M206.9 370.4h0M158.2 152.5h0M158.8 136.3h0M159.1 209.2h0M174.8 312.2h0M189.8 390.6h0M200.1 364.8h0M181.6 152.3h0M176.0 391.8h0M186.5 177.5h0M215.4 114.1h0M202.3 172.2h0M153.1 154.9h0M147.8 115.5h0M97.8 146.2h0M120.9 119.9h0M142.5 179.2h0M164.9 332.4h0M210.0 346.4h0M113.1 146.4h0M200.1 215.8h0M97.9 125.8h0M198.2 344.6h0M202.8 357.0h0M200.4 331.2h0M178.1 142.9h0M129.1 119.8h0M122.6 113.4h0M126.4 155.9h0M152.1 199.0h0M144.5 139.4h0M173.2 174.1h0M179.2 341.0h0M184.6 199.5h0M170.2 231.0h0M111.6 147.4h0M130.3 122.8h0M176.4 162.4h0M169.8 223.0h0M227.1 223.3h0M140.6 172.2h0M193.7 186.0h0M191.2 146.8h0M173.1 347.9h0M194.7 145.7h0M205.6 358.1h0M131.2 130.9h0M144.6 125.0h0M171.4 111.1h0M134.8 135.4h0M178.7 180.4h0M184.8 311.8h0M127.3 133.8h0M175.5 215.6h0M164.1 206.0h0M117.2 131.0h0M175.1 153.6h0M165.9 173.3h0M135.0 165.0h0M196.8 217.9h0M232.0 226.8h0M221.5 214.1h0M176.6 310.4h0M162.2 219.8h0M117.4 146.1h0M174.3 110.1h0M169.8 369.9h0M198.4 382.3h0M185.6 350.8h0M144.9 133.8h0M167.6 132.6h0M207.9 368.9h0M163.1 115.4h0M168.6 138.9h0M199.9 184.3h0M124.4 149.3h0M208.1 376.8h0M123.6 166.3h0M113.6 157.2h0M129.7 174.9h0M159.4 145.3h0M98.3 121.2h0M160.8 191.6h0M98.7 141.3h0M113.6 157.1h0M144.8 124.9h0M192.1 154.5h0M174.6 305.2h0M172.4 319.8h0M150.9 182.4h0M103.7 148.5h0M238.0 237.7h0M131.0 162.6h0M189.3 379.4h0M167.2 223.2h0M135.3 148.3h0M169.9 345.0h0M150.0 164.5h0M175.0 378.7h0M191.7 359.7h0M176.3 340.8h0M181.3 353.6h0M107.8 136.8h0M188.1 330.2h0M147.0 117.8h0M161.3 176.2h0M147.4 164.5h0M181.1 163.6h0M115.4 172.7h0M106.3 151.4h0M113.7 178.9h0M118.4 177.9h0M189.8 191.9h0M203.2 372.5h0M167.6 214.6h0M203.7 360.1h0M204.0 376.6h0M124.6 129.4h0M138.8 187.9h0M145.4 167.2h0M232.6 230.0h0M151.7 197.2h0M115.4 113.5h0M124.0 119.3h0M206.6 335.8h0M119.5 117.7h0M101.3 150.7h0M199.3 145.8h0M162.3 139.4h0M180.0 352.1h0M160.9 155.3h0M206.0 355.8h0M190.4 363.0h0M109.5 133.9h0M245.7 224.7h0M185.9 219.0h0M153.4 174.5h0M209.9 337.4h0M158.1 151.3h0M187.5 216.9h0M178.7 243.9h0M165.5 161.4h0M166.4 234.0h0M172.9 238.2h0M140.2 110.1h0M143.7 199.7h0M172.5 288.0h0M179.9 336.8h0M160.7 130.4h0M166.8 169.0h0M186.9 188.2h0M200.3 211.8h0M180.1 131.8h0M192.5 174.0h0M113.4 156.6h0M176.7 303.3h0M142.1 156.7h0M129.7 197.5h0M200.9 146.3h0M138.5 113.0h0M175.2 116.6h0M134.0 158.3h0M167.2 230.2h0M152.4 150.4h0M246.0 240.9h0M175.9 198.6h0M192.2 200.8h0M215.2 338.7h0M167.4 174.7h0M206.7 221.4h0M143.5 129.3h0M217.7 140.2h0M182.5 161.5h0M192.4 124.4h0M141.3 127.7h0M171.8 254.7h0M202.7 172.6h0M178.8 350.4h0M206.3 335.7h0M136.5 142.2h0M177.0 150.9h0M178.0 117.8h0M112.8 125.8h0M154.5 116.7h0M193.0 132.5h0M168.9 367.3h0M182.7 288.4h0M166.2 202.9h0M120.8 121.5h0M127.0 172.5h0M210.6 334.5h0M198.6 200.6h0M109.1 175.2h0M178.6 223.4h0M184.5 113.8h0M190.0 210.9h0M163.9 228.2h0M152.8 182.3h0M193.8 361.6h0M178.1 288.0h0M200.0 215.7h0M176.4 285.7h0M198.4 200.6h0M236.9 243.0h0M127.4 163.0h0M138.5 204.9h0M127.3 170.5h0M149.7 173.8h0M128.8 125.1h0M139.5 190.4h0M174.2 141.9h0M205.0 156.9h0M213.3 145.3h0M105.5 139.5h0M123.7 133.9h0M152.1 213.8h0M214.9 116.2h0M144.2 146.9h0M123.7 189.7h0M146.2 170.0h0M121.8 155.6h0M123.0 117.1h0M189.0 122.7h0M137.3 137.8h0M175.1 322.3h0M117.2 118.3h0M178.7 185.0h0M197.3 195.1h0M102.2 161.6h0M172.9 327.0h0M211.8 372.9h0M176.2 228.5h0M184.7 394.8h0M181.2 191.7h0M170.4 196.0h0M109.7 175.2h0M172.7 246.0h0M160.1 148.2h0M155.7 112.9h0M152.6 131.0h0M177.7 310.8h0M161.3 144.7h0M179.9 362.9h0M168.8 169.6h0M204.3 183.2h0M98.7 144.8h0M189.0 376.0h0M184.5 340.5h0M182.9 395.6h0M101.3 124.6h0M115.0 163.1h0M163.1 173.1h0M212.1 348.3h0M186.2 189.7h0M105.0 165.0h0M214.3 340.1h0M192.4 378.4h0M160.6 162.8h0M168.6 185.6h0M174.6 358.2h0M197.4 353.4h0M160.5 153.9h0M144.5 170.8h0M177.8 256.9h0M179.2 222.8h0M192.8 118.6h0M178.6 132.9h0M179.0 343.5h0M234.6 242.6h0M156.4 214.9h0M152.7 177.5h0M175.9 225.1h0M116.7 175.4h0M182.6 297.0h0M186.7 171.2h0M108.3 154.6h0M104.3 143.1h0M208.7 106.3h0M177.0 263.1h0M184.5 113.6h0M116.7 181.4h0M131.0 116.2h0M157.5 191.9h0M111.3 153.7h0M180.2 373.8h0M153.0 112.8h0M113.1 140.2h0M188.1 180.5h0M201.8 339.8h0M124.2 163.3h0M114.8 126.3h0M181.8 150.9h0M171.3 110.0h0M122.8 151.1h0M153.6 142.1h0M140.4 115.3h0M180.6 366.3h0M164.6 136.1h0M99.4 148.7h0M185.4 197.6h0M193.4 391.6h0M167.2 220.6h0M139.5 201.5h0M241.8 242.0h0M170.6 235.5h0M140.7 135.6h0M177.4 316.2h0M234.7 238.7h0M121.5 162.3h0M192.9 323.9h0M189.1 210.5h0M199.2 385.9h0M189.1 353.0h0M207.0 216.1h0M192.0 185.3h0M122.7 144.2h0M201.3 167.5h0M171.0 316.4h0M189.7 113.7h0M97.6 149.8h0M114.1 171.5h0M186.5 323.7h0M145.3 189.7h0M186.2 127.1h0M144.4 153.1h0M97.7 143.0h0M161.4 121.0h0M177.0 214.2h0M126.5 193.4h0M128.8 142.3h0M195.9 174.8h0M112.2 171.1h0M168.3 110.7h0M128.8 136.5h0M109.1 134.7h0M174.4 353.3h0M141.0 198.8h0M174.8 128.6h0M214.5 358.9h0M180.8 305.2h0M191.0 337.4h0M201.2 184.4h0M135.2 207.7h0M188.8 178.6h0M239.8 251.3h0M169.5 299.2h0M116.1 154.0h0M175.6 214.8h0M121.7 180.7h0M182.5 306.4h0M197.5 188.0h0M107.3 151.7h0M177.5 193.7h0M138.5 111.3h0M204.3 172.7h0M130.1 167.0h0M186.4 153.0h0M171.2 310.8h0M115.2 161.7h0M192.8 356.3h0M114.0 141.1h0M109.7 152.6h0M209.2 382.6h0M127.8 119.7h0M168.8 120.8h0M137.2 120.1h0M200.7 172.0h0M172.3 365.4h0M190.2 380.3h0M189.7 157.6h0M179.7 139.6h0M118.6 140.1h0M185.0 219.1h0M113.0 133.5h0M168.3 189.2h0M247.7 220.2h0M231.5 225.6h0M97.2 138.0h0M167.5 315.0h0M192.2 202.5h0M203.4 136.5h0M165.9 119.6h0M160.6 156.9h0M179.5 243.2h0M115.7 119.0h0M168.0 138.2h0M182.5 213.7h0M188.5 173.2h0M236.0 230.9h0M187.7 329.2h0M200.8 211.4h0M188.4 165.7h0M144.4 167.2h0M178.4 178.4h0M180.2 179.6h0M157.1 173.6h0M209.2 368.7h0M193.6 181.0h0M158.6 218.3h0M150.2 151.4h0M180.3 297.0h0M160.5 194.6h0M221.3 223.0h0M136.4 155.1h0M168.2 340.1h0M201.1 186.0h0M188.7 160.7h0M166.6 201.2h0M206.3 131.4h0M196.8 201.8h0M145.6 189.1h0M180.4 144.6h0M176.8 173.6h0M140.1 162.5h0M104.1 140.1h0M176.7 268.9h0M125.3 148.4h0M176.5 229.5h0M169.8 298.3h0M206.6 140.4h0M144.7 187.6h0M243.2 219.5h0M173.7 121.8h0M193.6 217.5h0M207.4 220.3h0M185.3 303.2h0M192.5 341.6h0M175.4 127.3h0M156.5 117.6h0M131.5 188.2h0M204.9 387.9h0M163.2 219.0h0M164.8 154.0h0M137.7 162.7h0M198.6 330.5h0M248.3 242.1h0M140.3 148.7h0M130.4 170.0h0M184.9 141.1h0M140.2 158.7h0M195.0 217.4h0M168.0 359.6h0M184.4 227.4h0M212.6 215.2h0M159.4 120.6h0M141.6 200.9h0M138.9 134.7h0M240.7 216.0h0M118.3 121.4h0M103.3 159.0h0M181.8 292.0h0M128.4 112.4h0M179.0 233.0h0M240.5 241.8h0M104.2 138.1h0M161.8 179.8h0M204.0 156.7h0M177.5 164.9h0M169.8 258.6h0M244.2 230.2h0M175.0 282.3h0M137.2 158.5h0M190.6 377.2h0M234.7 242.6h0M104.9 154.7h0M169.5 279.4h0M221.7 102.4h0M159.7 148.3h0M174.6 257.8h0M156.6 205.1h0M140.3 191.4h0M114.4 181.6h0M140.4 190.6h0M167.3 131.6h0M172.3 306.0h0M173.2 184.5h0M172.5 147.9h0M164.0 110.6h0M179.5 123.2h0M226.7 99.1h0M169.2 175.2h0M188.0 161.7h0M133.8 118.6h0M129.3 160.4h0M181.4 301.8h0M183.2 377.7h0M243.6 221.5h0M172.4 185.1h0M165.4 171.0h0M107.6 140.0h0M221.6 220.9h0M136.1 170.3h0M146.8 140.1h0M200.1 335.5h0M180.6 306.2h0M237.2 232.1h0M205.6 363.7h0M170.9 344.1h0M136.2 142.2h0M132.7 130.7h0M243.1 244.6h0M217.4 121.4h0M130.1 186.0h0M172.9 122.8h0M161.0 136.3h0M145.5 198.7h0M176.0 254.5h0M174.1 200.2h0M220.4 214.6h0M198.6 166.6h0M135.2 201.1h0M195.5 356.2h0M164.4 247.6h0M136.7 119.1h0M166.6 133.0h0M166.1 145.1h0M163.7 135.4h0M201.8 133.1h0M193.2 203.8h0M153.4 150.3h0M187.6 130.0h0M197.3 372.5h0M161.7 135.3h0M182.6 229.5h0M175.1 163.8h0M145.9 127.3h0M133.2 178.5h0M204.4 138.0h0M196.5 119.8h0M191.1 387.2h0M178.5 136.1h0M166.9 262.4h0M219.5 107.0h0M188.0 148.8h0M127.2 191.7h0M130.8 183.8h0M183.3 316.1h0M184.8 189.1h0M206.1 357.5h0M216.2 109.1h0M214.0 118.9h0M160.4 133.2h0M130.6 150.4h0M104.1 162.9h0M173.0 268.9h0M182.6 356.9h0M161.3 173.4h0M193.1 134.3h0M168.7 251.3h0M203.9 354.9h0M168.1 347.0h0M134.3 119.5h0M194.2 218.8h0M123.1 191.4h0M142.8 131.7h0M188.4 140.8h0M181.9 369.7h0M245.5 232.7h0M132.2 154.5h0M106.6 116.2h0M185.4 345.4h0M189.7 128.5h0M163.8 150.8h0M170.3 291.7h0M179.6 175.9h0M120.9 160.2h0M161.7 146.9h0M119.2 187.2h0M177.2 243.4h0M134.0 115.7h0M184.7 140.8h0M185.0 150.3h0M156.6 129.5h0M174.2 270.1h0M183.0 202.7h0M174.8 297.3h0M161.9 138.2h0M118.7 184.1h0M183.2 111.7h0M141.4 138.6h0M178.8 154.9h0M183.3 194.4h0M127.9 150.7h0M192.2 212.8h0M99.2 138.9h0M221.1 212.2h0M189.5 168.1h0M136.1 133.1h0M160.9 134.6h0M94.6 122.6h0M148.1 114.4h0M187.3 220.7h0M184.4 191.4h0M216.1 145.8h0M111.1 154.3h0M191.5 179.1h0M206.5 339.9h0M175.2 209.7h0M177.4 124.5h0M152.3 151.8h0M152.4 205.4h0M178.0 221.2h0M149.9 173.3h0M189.7 215.3h0M120.2 119.2h0M156.9 136.2h0M193.3 214.0h0M169.8 328.7h0M147.6 131.8h0M190.9 370.5h0M192.2 164.4h0M105.0 149.8h0M100.8 139.3h0M136.9 154.4h0M170.7 239.6h0M170.9 313.0h0M143.9 215.4h0M221.7 222.7h0M243.1 219.8h0M166.5 169.7h0M124.3 189.1h0M184.3 318.6h0M177.5 281.5h0M177.8 239.3h0M146.4 188.2h0M164.7 233.8h0M169.5 199.3h0M176.0 178.8h0M97.9 142.1h0M206.9 347.6h0M173.5 287.8h0M99.8 146.5h0M155.2 186.5h0M170.8 304.6h0M225.3 248.1h0M132.9 121.0h0M109.1 122.8h0M193.1 161.4h0M113.4 140.3h0M175.7 240.8h0M173.4 375.1h0M176.3 367.9h0M143.8 141.3h0M135.3 163.2h0M182.3 177.0h0M164.2 118.9h0M154.1 179.3h0M178.7 126.6h0M147.2 197.7h0M195.1 186.3h0M188.5 299.7h0M187.2 360.3h0M173.6 285.0h0M194.1 122.7h0M177.2 121.8h0M194.5 335.4h0M182.7 392.6h0M198.2 356.2h0M146.3 197.9h0M195.0 131.5h0M146.1 174.9h0M181.6 117.9h0M140.6 168.8h0M172.6 233.9h0M136.6 189.0h0M145.1 193.1h0M126.0 170.1h0M189.3 145.5h0M185.9 139.6h0M195.8 125.4h0M212.8 225.3h0M174.8 266.8h0M182.9 191.0h0M150.8 143.4h0M194.7 344.0h0M154.6 148.9h0M168.6 161.8h0M97.4 123.8h0M177.3 213.2h0M166.3 132.3h0M213.1 143.7h0M214.0 335.2h0M190.4 366.5h0M213.6 210.3h0M135.5 182.1h0M126.8 138.3h0M183.7 333.6h0M161.6 126.9h0M142.2 158.3h0M161.3 181.6h0M171.1 268.0h0M170.5 350.9h0M126.1 133.5h0M179.1 288.3h0M115.0 176.5h0M168.8 378.2h0M109.5 118.6h0M172.9 247.0h0M128.3 185.5h0M103.6 120.9h0M188.0 211.8h0M175.9 369.9h0M169.8 265.8h0M215.9 125.5h0M184.1 171.5h0M213.9 343.8h0M176.9 189.9h0M145.9 129.4h0M230.3 230.0h0M163.0 212.0h0M206.9 165.7h0M175.2 237.3h0M146.9 111.1h0M112.0 152.7h0M146.6 179.7h0M140.8 115.0h0M166.9 224.7h0M168.8 279.1h0M154.6 145.9h0M162.0 184.9h0M170.9 377.8h0M197.2 203.7h0M124.8 175.3h0M140.7 195.4h0M159.5 171.1h0M138.5 178.3h0M216.2 121.7h0M194.2 348.4h0M172.2 380.7h0M180.5 222.5h0M172.6 157.1h0M106.9 157.6h0M170.1 329.4h0M127.9 186.1h0M179.7 131.7h0M186.8 321.6h0M160.9 164.2h0M195.5 352.6h0M137.2 152.2h0M194.7 203.7h0M117.6 177.5h0M197.2 134.3h0M225.3 103.1h0M218.8 209.7h0M151.2 123.1h0M175.7 200.6h0M159.1 136.1h0M143.2 127.8h0M177.7 233.0h0M155.5 184.0h0M173.2 122.3h0M181.3 297.2h0M193.0 341.6h0M125.9 163.0h0M190.3 336.2h0M220.7 225.1h0M158.6 184.8h0M124.0 134.4h0M183.0 227.3h0M142.6 139.9h0M138.4 118.8h0M131.5 128.2h0M148.2 195.4h0M143.6 115.3h0M191.5 192.9h0M182.1 210.6h0M231.5 226.6h0M180.1 217.4h0M157.5 162.4h0M129.4 154.2h0M135.9 136.3h0M151.6 190.5h0M180.6 327.5h0M172.9 173.4h0M185.1 366.4h0M147.4 112.3h0M117.3 135.0h0M185.5 333.6h0M139.7 163.7h0M184.9 180.6h0M179.9 326.5h0M144.5 146.3h0M187.5 161.9h0M178.3 322.2h0M146.4 147.9h0M167.9 155.8h0M177.1 384.1h0M140.3 164.6h0M169.7 143.8h0M206.8 357.6h0M171.8 316.0h0M186.9 173.5h0M206.6 346.6h0M153.6 128.3h0M173.9 356.7h0M199.8 341.3h0M187.5 202.9h0M112.3 172.7h0M195.8 153.2h0M143.1 147.4h0M157.9 145.1h0M198.2 388.0h0M182.2 360.3h0M161.9 159.3h0M226.2 101.8h0M178.6 377.4h0M232.8 226.9h0M199.9 347.8h0M171.6 303.3h0M137.1 154.9h0M143.2 183.7h0M148.0 211.7h0M153.0 200.0h0M202.2 381.4h0M178.4 290.9h0M177.3 124.4h0M175.7 137.7h0M187.7 189.7h0M223.1 244.2h0M211.6 214.8h0M170.8 243.1h0M189.8 160.9h0M176.4 124.9h0M157.9 174.1h0M136.5 112.9h0M172.3 191.9h0M175.7 204.5h0M177.1 292.2h0M195.9 345.4h0M116.7 155.7h0M166.1 167.8h0M180.4 186.0h0M192.4 162.4h0M176.2 132.2h0M141.2 116.2h0M174.4 357.7h0M166.2 187.5h0M171.0 203.8h0M122.7 160.6h0M174.3 212.2h0M173.8 317.7h0M177.2 181.6h0M196.8 172.6h0M242.6 218.2h0M218.1 224.9h0M191.3 209.0h0M196.2 212.0h0M251.6 220.5h0M132.7 162.8h0M147.5 185.9h0M141.7 170.0h0M169.2 299.4h0M202.4 337.6h0M199.9 167.3h0M105.3 149.3h0M111.1 123.6h0M185.2 305.8h0M94.9 128.4h0M169.7 251.6h0M165.6 149.4h0M115.6 154.7h0M187.0 314.7h0M127.0 145.6h0M181.5 214.6h0M173.6 205.6h0M122.8 160.9h0M166.1 162.9h0M188.8 162.0h0M177.2 321.0h0M148.4 116.5h0M140.1 130.6h0M169.7 172.2h0M150.9 165.9h0M124.8 159.8h0M238.4 249.2h0M102.9 116.7h0M148.5 215.9h0M142.0 135.5h0M234.6 233.8h0M124.9 158.6h0M159.6 134.0h0M171.6 293.0h0M198.5 338.5h0M217.7 143.8h0M190.8 145.4h0M147.5 206.1h0M158.6 206.2h0M178.1 315.9h0M197.4 333.5h0M210.4 143.1h0M197.0 212.7h0M141.8 189.3h0M161.1 126.7h0M186.1 376.6h0M172.7 181.2h0M210.9 334.1h0M165.2 224.8h0M207.2 158.8h0M102.6 159.6h0M226.7 212.5h0M185.5 150.5h0M102.9 147.6h0M167.4 215.9h0M130.3 158.6h0M244.4 224.7h0M171.3 372.8h0M164.9 190.9h0M170.2 259.5h0M131.8 178.2h0M149.1 177.8h0M140.6 180.2h0M208.6 208.4h0M183.8 366.9h0M195.3 361.0h0M146.3 180.5h0M179.8 203.4h0M176.9 170.8h0M108.5 163.8h0M116.0 177.1h0M167.4 193.7h0M175.7 330.7h0M149.7 135.7h0M208.4 212.5h0M143.0 161.1h0M164.4 223.4h0M156.1 204.3h0M110.9 138.6h0M120.3 115.4h0M181.0 290.9h0M99.4 153.8h0M213.9 112.9h0M130.1 143.0h0M194.1 224.6h0M187.7 213.7h0M199.8 144.4h0M160.0 153.3h0M169.9 369.6h0M170.8 304.7h0M178.1 378.1h0M137.3 168.8h0M137.8 200.7h0M139.4 132.3h0M179.5 296.0h0M202.8 152.6h0M212.0 126.7h0M186.8 306.3h0M189.0 203.6h0M165.0 127.6h0M185.5 303.2h0M175.6 207.9h0M192.5 356.7h0M191.7 333.4h0M169.6 216.3h0M108.1 148.1h0M152.0 153.7h0M171.6 140.1h0M175.5 301.2h0M228.8 226.4h0M135.6 151.1h0M135.4 203.3h0M142.2 198.6h0M206.5 373.2h0M113.8 146.9h0M158.0 199.0h0M154.0 138.3h0M192.4 389.6h0M170.0 192.5h0M211.1 370.4h0M190.1 206.6h0M179.2 193.0h0M112.2 168.2h0M171.9 267.0h0M186.7 375.5h0M166.6 218.0h0M191.9 139.5h0M129.1 193.2h0M156.4 142.0h0M194.0 212.6h0M178.9 159.5h0M178.7 118.1h0M172.0 262.3h0M179.2 181.2h0M126.7 185.8h0M117.8 156.6h0M182.3 294.3h0M179.9 377.8h0M169.8 262.6h0M179.8 329.5h0M195.6 394.1h0M172.9 134.6h0M191.2 350.7h0M179.2 158.4h0M219.5 116.0h0M208.2 218.4h0M144.2 110.8h0M174.4 212.5h0M114.3 138.0h0M188.8 200.7h0M140.5 205.5h0M192.8 203.6h0M145.5 203.2h0M196.6 353.6h0M172.9 134.9h0M171.8 354.2h0M172.6 149.0h0M178.3 349.6h0M144.9 179.2h0M192.0 212.3h0M160.5 114.8h0M187.5 339.1h0M190.0 362.9h0M160.7 176.9h0M178.1 365.8h0M208.8 375.5h0M175.7 342.0h0M193.2 340.7h0M154.7 130.5h0M183.3 128.1h0M246.1 229.4h0M176.0 367.0h0M180.0 343.0h0M143.9 109.9h0M165.8 117.6h0M177.9 202.3h0M217.3 121.5h0M150.2 122.4h0M191.8 196.9h0M137.1 110.0h0M214.6 215.7h0M192.1 355.3h0M249.8 215.9h0M171.1 347.3h0M140.5 164.8h0M166.4 219.0h0M144.9 147.7h0M114.0 156.1h0M183.0 115.8h0M128.4 179.8h0M175.9 188.5h0M183.4 202.9h0M194.4 130.5h0M208.2 370.3h0M191.3 175.7h0M185.3 205.2h0M145.2 161.2h0M169.5 212.8h0M183.7 330.2h0M191.4 124.8h0M185.4 374.4h0M179.6 148.8h0M159.5 119.0h0M170.1 296.3h0M135.9 151.1h0M167.1 149.1h0M182.8 213.7h0M177.8 178.6h0M112.7 134.9h0M110.8 132.8h0M139.0 169.5h0M197.6 134.0h0M137.8 133.4h0M131.4 189.8h0M124.5 128.1h0M191.5 368.1h0M155.7 137.4h0M187.5 334.2h0M175.9 361.0h0M116.2 121.1h0M217.9 219.8h0M189.4 157.4h0M189.2 150.7h0M182.9 190.3h0M201.0 380.5h0M166.6 314.6h0M161.2 112.8h0M206.6 128.8h0M108.1 156.1h0M123.6 152.3h0M103.4 121.1h0M172.7 186.6h0M217.8 119.7h0M166.6 203.4h0M140.3 200.9h0M113.7 179.2h0M173.0 212.1h0M210.9 375.0h0M189.0 375.6h0M174.0 328.2h0M176.9 230.5h0M214.2 348.6h0M145.4 135.3h0M190.1 218.3h0M209.7 379.2h0M171.3 232.4h0M155.1 205.9h0M188.0 140.6h0M176.3 201.7h0M178.2 184.8h0M189.8 186.7h0M192.2 329.2h0M210.1 378.9h0M173.0 282.2h0M176.7 327.6h0M177.6 188.4h0M112.5 146.6h0M182.2 234.2h0M197.4 135.9h0M168.4 182.0h0M148.4 141.2h0M181.1 126.2h0M202.0 366.2h0M192.7 344.1h0M176.2 269.9h0M193.7 125.6h0M169.0 370.9h0M119.3 116.4h0M163.1 187.1h0M150.5 160.5h0M178.8 343.2h0M201.4 209.9h0M127.8 169.8h0M153.0 120.6h0M161.7 119.6h0M120.6 127.3h0M164.5 115.2h0M190.5 168.9h0M206.1 378.2h0M151.1 174.1h0M137.8 141.3h0M196.6 394.6h0M173.5 381.4h0M133.9 132.8h0M144.0 199.7h0M113.5 154.9h0M203.6 342.0h0M210.0 165.4h0M169.5 347.3h0M125.5 189.9h0M118.8 171.7h0M185.2 357.2h0M175.9 334.8h0M169.4 132.0h0M171.7 192.3h0M164.5 338.1h0M201.7 392.3h0M200.7 336.0h0M135.2 151.8h0M148.1 126.8h0M111.9 153.4h0M178.1 174.5h0M180.2 180.2h0M138.0 188.7h0M139.5 193.8h0M219.9 118.4h0M244.5 243.7h0M179.9 211.4h0M234.7 227.8h0M203.9 359.6h0M186.0 209.1h0M124.2 195.5h0M185.4 346.5h0M196.5 353.0h0M157.5 198.9h0M216.7 339.1h0M157.0 197.0h0M173.7 275.2h0M201.6 346.6h0M194.4 170.6h0M154.8 142.6h0M166.1 145.5h0M137.0 202.0h0M244.9 240.8h0M116.3 129.1h0M150.3 209.9h0M237.7 242.4h0M164.5 114.9h0M238.0 229.2h0M146.5 138.8h0M203.5 369.8h0M204.5 387.5h0M188.1 205.7h0M169.5 329.4h0M189.2 123.4h0M183.0 184.1h0M132.7 154.1h0M146.3 202.2h0M132.6 191.1h0M175.5 360.4h0M179.6 297.4h0M200.9 207.4h0M163.4 157.8h0M117.4 130.6h0M118.0 155.0h0M168.4 191.0h0M187.5 125.9h0M95.8 122.5h0M241.7 230.8h0M142.7 110.9h0M146.0 177.5h0M115.7 127.5h0M143.3 193.9h0M138.7 124.0h0M177.8 227.8h0M155.2 126.7h0M187.1 208.1h0M137.4 125.8h0M143.4 157.5h0M168.1 159.8h0M180.1 135.6h0M128.3 147.4h0M173.7 161.5h0M132.4 161.5h0M212.3 130.9h0M161.3 193.3h0M181.0 134.7h0M184.6 289.7h0M100.8 134.5h0M191.9 383.6h0M194.4 159.6h0M159.3 169.5h0M245.7 230.0h0M159.5 129.3h0M159.3 192.6h0M211.2 211.0h0M167.4 258.5h0M191.4 350.0h0M191.5 162.4h0M177.8 150.8h0M175.0 145.6h0M181.0 155.7h0M110.2 137.9h0M196.5 171.8h0M110.1 146.5h0M112.6 115.5h0M178.4 393.6h0M186.3 142.0h0M246.3 225.2h0M183.8 340.0h0M159.1 135.3h0M157.0 130.9h0M135.5 110.1h0M173.3 374.2h0M203.4 130.9h0M96.0 124.2h0M236.5 215.8h0M181.9 311.6h0M172.8 313.7h0M164.6 237.6h0M171.3 334.1h0M159.8 207.3h0M170.0 196.1h0M207.8 362.8h0M160.0 208.7h0M139.2 152.1h0M192.8 123.0h0M172.8 168.5h0M165.0 324.9h0M154.1 123.9h0M235.8 232.2h0M184.0 218.3h0M202.6 188.2h0M240.9 231.1h0M195.9 392.1h0M151.4 133.8h0M177.8 112.1h0M169.1 116.2h0M169.6 156.3h0M222.9 218.9h0M170.5 116.4h0M167.8 182.7h0M233.4 249.1h0M140.6 189.9h0M145.4 168.6h0M143.7 179.2h0M238.8 214.7h0M174.9 133.7h0M192.0 371.0h0M188.4 147.1h0M153.6 192.9h0M215.8 119.9h0M142.4 176.4h0M194.9 365.0h0M179.7 367.2h0M211.4 366.0h0M185.7 155.6h0M204.5 334.0h0M174.5 258.0h0M123.3 116.4h0M233.7 236.0h0M209.7 164.4h0M191.2 198.7h0M184.5 384.0h0M117.8 160.0h0M171.5 323.6h0M178.1 156.4h0M141.0 189.2h0M150.8 140.3h0M122.0 129.9h0M169.0 114.8h0M163.5 136.7h0M168.9 133.6h0M183.6 316.9h0M184.8 360.5h0M127.5 125.9h0M198.2 139.0h0M130.9 124.4h0M168.9 332.4h0M179.6 117.2h0M212.5 119.6h0M181.9 136.1h0M171.8 228.8h0M190.8 153.1h0M197.3 146.4h0M191.7 174.9h0M217.2 142.3h0M210.7 212.4h0M190.7 380.0h0M178.1 196.7h0M167.1 233.0h0M171.0 317.9h0M174.3 369.8h0M162.7 136.0h0M194.1 360.2h0M188.8 368.7h0M172.8 353.2h0M187.4 360.3h0M203.0 184.6h0M184.8 320.3h0M174.7 183.6h0M191.9 145.3h0M199.8 199.8h0M173.2 337.8h0M138.6 122.2h0M175.5 177.9h0M177.1 223.6h0M184.3 194.2h0M120.0 182.8h0M242.0 244.6h0M119.0 134.6h0M169.0 359.6h0M143.6 190.1h0M202.9 182.5h0M162.5 130.2h0M231.7 246.4h0M165.2 190.7h0M140.7 205.9h0M167.3 356.0h0M199.4 201.4h0M142.3 193.7h0M183.6 352.3h0M223.5 211.8h0M114.0 149.6h0M177.3 131.1h0M142.5 148.9h0M136.7 140.1h0M109.3 137.7h0M183.5 304.3h0M178.6 158.9h0M200.9 394.5h0M189.6 344.5h0M212.1 341.2h0M143.2 122.7h0M174.3 115.6h0M155.6 138.7h0M176.1 119.9h0M177.8 211.4h0M127.3 117.7h0M112.0 140.7h0M166.8 141.0h0M133.2 181.3h0M158.4 223.1h0M192.2 146.1h0M149.9 120.3h0M166.8 214.7h0M239.1 241.7h0M208.0 374.9h0M148.3 131.3h0M174.7 267.3h0M192.1 394.9h0M143.1 136.1h0M192.3 358.2h0M126.1 161.9h0M175.2 109.8h0M152.4 112.9h0M174.2 350.0h0M104.4 136.1h0M183.3 171.1h0M131.0 190.4h0M171.0 166.4h0M171.7 195.0h0M121.7 182.6h0M213.7 129.3h0M201.1 211.0h0M173.2 287.8h0M193.5 171.2h0M181.3 142.8h0M159.1 183.9h0M175.0 279.8h0M180.9 286.4h0M180.3 279.7h0M218.4 123.3h0M244.0 231.2h0M178.5 331.8h0M182.4 178.8h0M177.1 313.0h0M182.7 335.9h0M172.3 321.2h0M165.0 117.0h0M206.6 160.4h0M120.7 189.1h0M130.2 182.1h0M123.0 157.0h0M172.2 289.7h0M107.5 130.0h0M189.1 121.7h0M156.5 129.8h0M152.7 217.7h0M177.8 126.7h0M203.8 192.6h0M102.2 127.7h0M130.2 157.7h0M109.1 145.9h0M190.3 362.9h0M191.9 178.4h0M129.1 141.8h0M188.7 184.4h0M179.0 112.0h0M121.8 112.3h0M188.0 182.3h0M120.3 125.0h0M107.3 155.3h0M147.4 173.0h0M152.1 120.2h0M198.1 378.1h0M112.2 160.2h0M176.1 131.8h0M174.1 377.4h0M169.5 229.3h0M141.3 113.6h0M150.8 159.6h0M138.9 139.6h0M173.4 321.9h0M215.1 209.8h0M114.1 144.7h0M160.3 220.1h0M169.1 209.6h0M103.4 152.9h0M141.5 209.4h0M171.7 139.3h0M176.6 369.8h0M151.8 175.6h0M125.9 129.2h0M194.7 139.8h0M199.4 136.1h0M197.2 188.7h0M187.6 367.2h0M200.9 379.6h0M204.9 178.8h0M167.9 123.4h0M213.3 356.7h0M171.1 128.7h0M145.7 135.2h0M174.8 297.7h0M215.1 151.9h0M147.6 133.9h0M163.7 151.5h0M155.0 156.1h0M187.4 338.6h0M133.0 161.6h0M200.7 187.2h0M136.5 122.8h0M174.7 310.7h0M230.2 232.9h0M92.6 132.3h0M191.1 200.5h0M204.1 352.4h0M172.5 217.1h0M197.3 125.1h0M119.8 124.0h0M114.8 155.5h0M174.9 280.5h0M170.8 199.4h0M200.8 347.3h0M154.4 220.8h0M137.4 113.7h0M107.2 164.2h0M212.9 338.0h0M235.9 230.3h0M99.5 130.9h0M185.5 386.4h0M230.1 236.4h0M237.2 227.7h0M240.0 215.9h0M156.8 176.9h0M170.3 356.2h0M213.0 339.1h0M176.6 122.2h0M169.8 137.7h0M174.5 150.7h0M175.5 176.2h0M176.4 366.1h0M167.4 211.0h0M202.8 363.6h0M145.3 200.7h0M195.0 138.7h0M200.4 187.8h0M189.9 180.0h0M184.7 190.7h0M163.4 151.7h0M158.3 163.3h0M124.6 191.5h0M134.6 128.5h0M177.6 348.9h0M189.8 379.6h0M186.6 385.6h0M188.5 188.2h0M227.4 227.6h0M147.4 212.9h0M175.0 191.5h0M191.2 324.4h0M186.5 138.9h0M176.0 362.7h0M121.3 116.6h0M183.8 361.4h0M128.7 168.7h0M171.0 306.6h0M187.9 203.2h0M177.3 350.6h0M149.1 147.9h0M145.4 195.5h0M151.1 212.3h0M96.2 141.5h0M146.9 201.4h0M182.8 307.5h0M187.0 345.8h0M175.9 192.1h0M118.6 184.1h0M153.7 192.2h0M167.5 304.8h0M122.1 113.4h0M146.2 116.5h0M178.6 221.7h0M144.4 212.1h0M175.6 360.3h0M179.2 360.6h0M162.7 207.7h0M162.0 117.3h0M191.5 340.3h0M160.4 121.4h0M191.4 176.6h0M208.7 336.0h0M154.9 204.8h0M191.5 392.0h0M141.0 181.8h0M184.1 121.4h0M174.0 218.9h0M139.8 140.8h0M175.7 131.1h0M94.2 137.9h0M179.8 305.4h0M178.2 210.3h0M107.5 143.6h0M190.1 125.2h0M176.5 361.0h0M172.5 116.2h0M251.0 222.9h0M126.4 114.3h0M186.7 157.8h0M179.4 308.7h0M154.2 117.6h0M181.8 146.1h0M175.2 364.8h0M178.5 217.0h0M191.0 197.5h0M158.7 120.3h0M178.5 126.0h0M175.8 219.8h0M142.1 176.0h0M167.5 126.7h0M175.7 242.7h0M195.6 386.4h0M163.4 117.6h0M113.6 119.9h0M116.9 165.2h0M174.7 187.3h0M180.6 171.2h0M118.9 173.9h0M164.2 173.1h0M189.4 350.9h0M140.6 125.7h0M160.5 190.5h0M133.5 115.3h0M154.5 193.2h0M170.8 177.9h0M227.1 239.4h0M206.6 155.4h0M179.0 351.1h0M179.9 377.8h0M193.9 120.2h0M103.2 138.1h0M212.6 219.0h0M174.3 379.2h0M144.9 207.0h0M167.1 198.9h0M178.5 245.5h0M172.1 154.7h0M197.9 154.0h0M188.3 386.7h0M153.6 145.0h0M169.9 118.4h0M158.3 202.5h0M148.7 195.4h0M130.0 163.6h0M182.7 386.7h0M151.8 219.4h0M180.0 226.6h0M155.4 122.1h0M168.4 218.1h0M135.1 177.0h0M176.5 164.0h0M180.7 324.3h0M174.8 360.0h0M168.9 346.9h0M148.4 143.8h0M190.5 146.3h0M198.8 372.0h0M141.2 177.5h0M111.6 131.7h0M206.6 213.5h0M121.9 183.8h0M182.4 389.1h0M153.3 112.8h0M170.9 239.1h0M164.8 194.0h0M194.1 125.2h0M114.4 132.6h0M195.1 358.2h0M164.3 193.0h0M173.5 144.4h0M205.6 382.9h0M130.4 134.1h0M180.6 231.2h0M195.9 220.5h0M206.7 154.5h0M194.8 154.9h0M150.8 210.2h0M175.7 196.7h0M152.7 195.8h0M112.5 134.2h0M213.4 116.6h0M220.1 111.4h0M213.9 361.7h0M158.0 163.4h0M191.6 349.5h0M194.1 121.0h0M197.7 206.1h0M195.9 390.2h0M115.6 178.5h0M200.1 340.2h0M188.8 189.5h0M193.0 190.7h0M171.4 312.0h0M176.3 374.4h0M164.8 178.5h0M135.3 129.8h0M205.0 132.5h0M177.0 179.7h0M177.6 295.9h0M203.6 112.5h0M148.3 178.2h0M182.0 385.2h0M112.7 143.0h0M149.8 201.0h0M183.9 285.8h0M196.5 172.8h0M169.3 213.0h0M178.4 354.4h0M231.3 100.0h0M187.3 141.7h0M179.4 183.9h0M189.3 114.2h0M202.2 170.8h0M237.5 246.1h0M138.7 189.2h0M172.2 129.5h0M155.3 183.3h0M228.9 98.7h0M146.2 128.0h0M172.7 381.8h0M176.2 143.3h0M157.8 116.6h0M173.7 226.9h0M130.0 171.8h0M176.4 320.7h0M157.8 223.8h0M204.0 143.3h0M130.6 184.0h0M218.7 215.9h0M140.0 174.4h0M128.8 160.7h0M168.9 253.6h0M158.1 167.4h0M181.5 136.2h0M180.4 372.0h0M186.3 352.9h0M201.6 187.1h0M170.0 325.2h0M133.7 182.9h0M206.9 369.1h0M103.7 141.6h0M157.0 174.9h0M153.0 201.8h0M157.6 161.9h0M183.3 115.2h0M141.3 151.0h0M185.1 133.2h0M176.2 112.6h0M204.7 111.0h0M142.2 122.7h0M198.6 204.5h0M168.4 326.9h0M202.1 191.5h0M176.8 331.2h0M187.6 197.9h0M110.8 153.7h0M117.7 124.9h0M197.5 221.0h0M174.4 269.3h0M195.6 344.7h0M158.3 167.0h0M155.5 116.0h0M141.0 198.4h0M183.2 330.7h0M117.4 144.0h0M141.2 140.5h0M133.4 150.5h0M124.6 116.6h0M177.7 288.6h0M206.8 358.3h0M209.5 140.5h0M159.5 169.5h0M125.0 167.0h0M242.1 227.9h0M141.4 113.1h0M182.7 159.5h0M152.0 220.0h0M179.3 127.7h0M169.2 353.8h0M185.5 191.8h0M120.5 158.4h0M214.3 361.6h0M188.4 347.0h0M204.8 384.7h0M184.7 368.0h0M158.1 119.6h0M165.9 198.7h0M193.3 344.3h0M158.9 164.3h0M198.5 345.1h0M118.2 126.5h0M161.9 141.8h0M184.7 128.0h0M216.8 357.7h0M149.1 210.5h0M162.5 154.1h0M136.3 157.9h0M173.9 353.3h0M183.8 126.5h0M175.1 160.6h0M198.9 140.6h0M142.4 184.4h0M107.9 161.7h0M173.7 210.2h0M202.1 344.3h0M173.8 345.6h0M144.7 121.6h0M153.3 113.7h0M222.3 227.2h0M218.0 110.4h0M164.1 120.4h0M182.1 385.7h0M165.9 128.5h0M198.4 368.2h0M168.6 135.1h0M152.0 201.0h0M168.5 254.1h0M145.7 119.4h0M158.1 174.8h0M125.6 155.0h0M119.8 162.4h0M233.2 210.5h0M126.4 132.4h0M197.8 215.6h0M148.1 178.5h0M195.3 367.2h0M193.7 359.6h0M175.5 121.1h0M95.2 129.4h0M106.4 149.7h0M202.2 215.0h0M143.0 155.4h0M184.6 198.8h0M119.6 171.1h0M139.9 193.7h0M182.9 218.3h0M171.5 238.9h0M151.6 154.8h0M125.6 163.4h0M202.8 208.5h0M106.9 159.8h0M183.1 119.6h0M247.7 233.0h0M203.7 367.5h0M194.8 126.9h0M145.1 164.8h0M133.3 146.9h0M138.3 143.7h0M190.5 127.6h0M221.7 101.1h0M251.0 224.4h0M189.8 352.2h0M127.9 169.0h0M153.5 151.5h0M134.5 169.7h0M171.6 110.6h0M216.3 145.3h0M144.6 149.6h0M121.7 162.5h0M194.6 165.9h0M183.7 328.3h0M168.3 374.9h0M198.4 138.2h0M179.0 240.0h0M187.6 126.7h0M127.9 161.2h0M190.4 215.7h0M181.9 227.5h0M188.0 332.0h0M139.3 160.3h0M196.7 134.3h0M149.1 197.7h0M194.8 361.6h0M148.5 118.7h0M164.1 199.5h0M191.8 170.8h0M182.5 305.2h0M205.9 376.8h0M177.3 231.1h0M152.8 208.6h0M157.0 155.3h0M194.3 372.3h0M131.7 202.2h0M133.7 143.3h0M94.2 144.9h0M165.1 216.6h0M191.9 130.1h0M213.6 148.0h0M201.7 218.4h0M192.0 345.2h0M174.7 337.4h0M235.2 233.5h0M128.9 197.5h0M119.8 146.2h0M142.7 137.3h0M177.2 199.9h0M137.6 178.4h0M206.2 343.0h0M175.0 196.3h0M106.9 125.1h0M181.5 196.5h0M181.4 363.5h0M102.9 130.2h0M138.9 203.5h0M224.9 103.2h0M166.8 140.9h0M115.1 140.3h0M145.5 137.7h0M173.1 202.3h0M187.3 203.6h0M100.6 124.4h0M186.7 175.2h0M237.8 238.2h0M173.4 120.9h0M179.6 135.5h0M148.2 128.3h0M113.5 113.5h0M178.2 302.6h0M135.3 205.7h0M200.2 175.3h0M180.4 229.9h0M211.6 339.1h0M174.5 325.7h0M183.4 124.0h0M176.2 229.2h0M170.7 352.1h0M169.1 300.5h0M197.8 171.4h0M162.6 144.0h0M245.5 227.5h0M184.3 363.2h0M161.3 219.4h0M160.1 121.5h0M193.3 172.0h0M143.3 198.0h0M208.4 382.8h0M196.5 146.1h0M169.6 183.0h0M197.0 140.8h0M135.5 117.8h0M147.3 209.2h0M171.9 228.2h0M162.7 211.5h0M169.4 234.0h0M144.3 110.9h0M200.2 362.8h0M126.0 150.7h0M210.0 381.2h0M201.2 155.6h0M168.3 236.5h0M106.3 149.3h0M192.0 335.5h0M168.5 120.7h0M214.9 107.7h0M138.3 152.6h0M136.3 136.5h0M167.2 180.2h0M222.8 231.7h0M197.4 137.9h0M43.9 158.4h0M46.3 147.4h0M44.1 154.3h0M24.1 185.7h0M36.1 170.0h0M22.7 178.4h0M43.4 152.7h0M37.6 181.9h0M28.4 154.2h0M23.7 161.7h0M41.4 153.6h0M20.2 158.6h0M39.5 182.7h0M25.7 153.7h0M21.2 210.2h0M41.4 140.8h0M22.8 182.6h0M36.1 175.9h0M20.6 184.1h0M34.5 190.8h0M49.7 150.5h0M21.2 177.7h0M2.9 190.1h0M16.7 187.7h0M14.4 190.4h0M9.5 203.1h0M27.1 157.9h0M24.2 166.9h0M39.9 167.7h0M22.2 163.0h0M47.2 153.8h0M36.9 141.6h0M34.7 156.0h0M22.6 204.0h0M8.0 178.9h0M27.3 178.8h0M48.4 157.9h0M31.4 151.2h0M6.9 180.3h0M48.1 142.4h0M21.0 170.7h0M42.6 174.4h0M39.6 176.6h0M21.5 195.9h0M33.4 173.8h0M40.6 170.2h0M8.5 198.6h0M25.2 186.2h0M32.6 182.3h0M38.4 140.4h0M31.0 167.1h0M24.3 201.3h0M16.2 171.4h0M36.6 163.7h0M29.3 169.8h0M9.8 204.2h0M6.7 177.4h0M3.5 184.8h0M35.5 187.5h0M29.8 162.0h0M29.6 190.0h0M26.8 182.6h0M35.8 163.4h0M17.6 166.1h0M42.5 160.7h0M25.1 176.6h0M31.2 172.6h0M12.3 183.8h0M32.3 197.7h0M22.3 192.0h0M14.4 192.8h0M35.7 166.1h0M26.5 152.6h0M45.3 162.9h0M47.5 155.7h0M34.6 185.3h0M49.0 145.1h0M13.2 180.4h0M27.3 190.6h0M23.8 166.1h0M32.7 179.2h0M19.4 167.2h0M42.9 168.7h0M14.8 192.1h0M19.5 184.1h0M30.8 166.6h0M14.5 167.5h0M14.2 202.9h0M36.3 148.9h0M41.4 145.8h0M14.4 208.4h0M19.2 191.9h0M35.5 147.3h0M20.4 165.4h0M45.1 158.9h0M53.5 144.3h0M13.0 196.5h0M7.1 173.4h0M11.3 187.2h0M29.5 165.4h0M23.6 195.8h0M12.6 206.8h0M3.4 182.8h0M9.3 197.6h0M9.0 179.4h0M16.8 187.8h0M20.4 177.4h0M37.2 157.5h0M28.9 176.8h0M8.4 191.1h0M10.4 187.6h0M23.5 174.7h0M30.2 182.7h0M30.7 149.1h0M34.5 153.4h0M20.5 207.6h0M26.1 176.7h0M25.6 154.5h0M22.6 181.7h0M10.5 181.7h0M18.7 170.1h0M10.2 188.5h0M24.8 154.5h0M45.3 150.7h0M34.3 178.8h0M32.5 167.9h0M19.9 176.3h0M9.1 199.6h0M35.8 176.1h0M27.8 191.0h0M28.3 174.2h0M25.0 159.9h0M18.0 197.3h0M21.2 172.3h0M14.6 192.1h0M7.5 195.0h0M32.3 155.1h0M16.8 180.7h0M13.4 205.2h0M44.9 151.7h0M26.9 154.7h0M40.0 176.5h0M40.0 183.5h0M47.2 143.1h0M25.0 157.1h0M5.6 201.8h0M42.1 173.9h0M43.7 142.6h0M23.5 166.5h0M48.4 154.2h0M20.1 195.9h0M33.5 191.8h0M15.5 174.8h0M25.0 171.6h0M14.8 197.9h0M7.2 179.7h0M36.3 173.5h0M13.1 186.8h0M37.4 178.7h0M37.6 182.9h0M19.5 165.6h0M34.3 181.3h0M8.3 187.9h0M24.7 194.6h0M37.3 156.2h0M28.4 177.0h0M48.7 154.7h0M8.1 181.6h0M23.4 156.3h0M7.3 180.0h0M40.2 174.2h0M14.7 205.7h0M32.6 175.5h0M11.9 199.6h0M40.3 178.1h0M14.4 197.5h0M26.3 178.9h0M33.6 171.0h0M26.4 158.5h0M46.8 159.8h0M15.1 177.6h0M38.2 190.9h0M40.7 181.3h0M4.9 175.7h0M40.9 174.9h0M32.0 144.5h0M13.9 168.7h0M7.7 194.8h0M31.2 190.7h0M17.3 193.1h0M13.3 175.7h0M30.7 167.5h0M23.4 183.8h0M34.6 147.5h0M20.6 160.7h0M12.1 185.4h0M23.1 197.0h0M37.6 165.8h0M17.4 166.3h0M41.6 175.3h0M15.6 169.5h0M34.7 193.1h0M49.0 160.6h0M10.6 172.4h0M27.0 194.3h0M17.5 188.2h0M42.4 153.6h0M14.8 184.0h0M32.3 155.5h0M35.3 178.4h0M53.6 159.5h0M12.3 201.2h0M12.0 198.5h0M25.4 154.5h0M12.3 179.3h0M40.6 151.0h0M21.4 161.1h0M47.1 144.5h0M38.1 158.8h0M51.5 148.7h0M26.3 185.2h0M33.4 158.3h0M21.6 196.8h0M28.4 194.4h0M33.9 189.5h0M21.4 207.9h0M20.7 190.1h0M8.8 197.7h0M4.8 178.9h0M17.5 178.6h0M30.2 156.6h0M13.9 192.8h0M23.9 187.8h0M21.0 205.9h0M20.6 171.7h0M40.6 155.5h0M36.1 188.4h0M52.0 146.2h0M46.1 150.4h0M9.4 180.9h0M20.8 182.5h0M4.1 182.8h0M30.2 168.2h0M11.1 172.3h0M33.6 148.2h0M41.6 175.0h0M20.9 163.5h0M36.9 154.8h0M36.3 172.6h0M33.0 158.8h0M21.3 193.8h0M29.6 153.5h0M27.9 176.1h0M32.9 162.4h0M48.5 151.1h0M44.8 163.4h0M20.7 185.0h0M12.6 182.8h0M18.8 192.9h0M32.5 183.3h0M38.0 169.4h0M37.5 143.9h0M26.1 173.0h0M26.1 195.8h0M18.4 207.3h0M19.1 199.8h0M48.6 156.5h0M36.4 176.6h0M31.3 152.5h0M18.7 177.0h0M30.6 159.3h0M19.7 186.7h0M38.5 172.8h0M32.2 160.9h0M10.2 195.8h0M36.3 164.5h0M30.2 163.4h0M6.2 182.9h0M33.3 178.2h0M27.9 161.1h0M32.5 192.3h0M53.5 152.2h0M35.1 187.0h0M41.4 143.3h0M35.9 175.0h0M36.6 167.2h0M34.3 148.6h0M23.0 207.5h0M19.5 203.0h0M19.7 194.7h0M26.3 163.9h0M20.4 193.9h0M18.4 195.0h0M29.2 157.4h0M44.3 156.7h0M14.5 178.7h0M38.2 168.6h0M17.6 187.4h0M47.7 158.2h0M9.4 182.8h0M47.6 161.4h0M28.0 154.4h0M6.0 177.4h0M30.4 179.0h0M30.2 154.0h0M36.5 176.5h0M28.9 195.6h0M26.8 171.2h0M22.8 161.9h0M40.0 149.2h0M33.2 153.2h0M11.4 183.0h0M39.3 163.3h0M33.8 163.4h0M23.6 161.7h0M38.9 169.7h0M34.2 168.2h0M32.4 156.3h0M27.3 199.7h0M38.8 150.3h0M27.0 157.7h0M48.1 143.6h0M47.6 154.3h0M35.0 190.7h0M12.5 204.9h0M18.9 184.9h0M18.5 187.1h0M15.9 192.3h0M30.3 197.3h0M11.8 175.6h0M8.9 181.9h0M17.1 187.5h0M28.9 191.9h0M12.5 172.6h0M44.1 153.0h0M28.4 173.8h0M32.4 177.9h0M51.5 157.2h0M44.1 159.1h0M9.6 175.4h0M32.9 156.8h0M50.3 157.6h0M33.9 184.8h0M4.2 190.8h0M24.9 157.8h0M20.2 173.4h0M22.7 163.8h0M26.2 193.5h0M30.8 187.4h0M8.1 183.5h0M51.4 153.4h0M30.1 176.3h0M25.9 187.7h0M10.2 203.5h0M21.9 175.1h0M27.6 169.7h0M49.8 155.7h0M29.4 173.4h0M29.5 189.7h0M30.2 194.5h0M39.7 171.9h0M4.6 185.4h0M42.3 153.1h0M19.0 179.4h0M47.6 160.7h0M43.5 152.2h0M16.0 208.1h0M14.6 172.1h0M19.6 196.5h0M43.4 151.8h0M24.3 176.5h0M8.6 185.0h0M41.8 144.8h0M34.0 195.2h0M6.4 188.7h0M36.6 166.2h0M5.6 187.6h0M44.9 140.7h0M14.3 182.7h0M26.0 160.6h0M15.0 180.1h0M41.0 185.5h0M4.8 185.0h0M54.1 153.1h0M18.3 177.1h0M10.3 202.9h0M13.6 192.2h0M22.5 173.5h0M23.4 180.8h0M16.3 178.2h0M32.4 147.7h0M23.6 202.0h0M23.0 183.7h0M15.4 196.6h0M25.4 170.2h0M7.5 177.2h0M24.0 176.0h0M21.8 183.7h0M30.1 162.2h0M8.2 197.8h0M223.7 119.0h0M211.5 162.0h0M206.4 116.6h0M211.8 168.5h0M204.2 108.5h0M216.7 166.2h0M216.7 161.7h0M213.4 152.9h0M211.5 130.6h0M213.7 157.8h0M216.0 113.0h0M211.6 182.0h0M204.3 176.3h0M213.2 154.0h0M220.9 131.2h0M225.2 137.6h0M211.3 111.1h0M212.9 170.6h0M215.6 163.6h0M209.7 114.3h0M201.8 190.0h0M208.9 103.3h0M224.7 129.1h0M215.2 159.1h0M217.6 139.7h0M212.1 145.0h0M214.4 166.9h0M211.6 121.8h0M222.1 117.1h0M220.1 131.6h0M217.3 114.4h0M222.5 144.7h0M213.5 153.7h0M212.9 109.5h0M215.5 148.2h0M220.8 123.1h0M213.6 136.3h0M204.7 113.7h0M210.3 114.0h0M204.0 179.3h0M220.3 143.3h0M221.5 135.9h0M219.7 152.1h0M211.6 131.9h0M203.5 189.9h0M215.1 167.9h0M205.4 179.0h0M217.5 141.3h0M208.9 124.7h0M202.4 114.2h0M210.1 180.2h0M211.9 131.4h0M209.0 118.7h0M208.1 112.0h0M203.6 193.6h0M203.1 191.9h0M220.3 123.8h0M206.7 185.8h0M213.3 166.6h0M208.6 162.6h0M220.3 126.9h0M204.8 114.9h0M221.5 115.5h0M201.0 109.7h0M212.5 127.2h0M213.2 104.3h0M209.1 193.3h0M206.8 180.3h0M213.0 146.4h0M215.6 128.8h0M197.0 319.5h0M200.1 320.2h0M198.6 324.9h0M213.1 331.9h0M203.2 329.3h0M194.4 321.5h0M201.7 322.3h0M208.1 329.6h0M209.1 326.3h0M208.1 330.5h0M198.9 324.4h0M205.0 329.3h0M203.2 321.3h0M194.8 316.8h0M209.6 327.4h0M206.2 333.1h0M199.5 320.4h0M197.6 324.2h0M210.3 333.9h0M207.1 332.1h0M200.5 318.0h0M205.2 330.2h0M196.2 322.9h0M201.3 318.9h0M197.2 320.1h0M206.9 327.6h0M181.4 275.3h0M179.9 261.4h0M179.8 264.9h0M180.7 267.4h0M179.7 261.5h0M182.0 257.1h0M179.4 264.2h0M180.0 267.5h0M181.5 255.1h0M179.5 269.6h0M180.8 258.6h0M182.1 250.5h0M180.0 268.2h0M179.5 250.7h0M181.7 254.4h0M179.7 261.7h0M180.5 264.4h0M181.2 268.6h0M179.8 257.8h0M180.0 253.2h0M181.7 253.8h0M179.6 270.9h0M181.0 271.0h0M179.3 260.1h0M180.3 259.6h0M179.3 257.2h0M181.2 257.9h0M181.5 259.9h0M181.4 274.9h0M180.9 273.2h0M237.4 253.8h0M237.7 256.4h0M235.5 256.2h0M237.3 257.6h0M236.7 259.2h0M234.6 260.6h0M235.0 261.4h0M234.8 263.6h0M235.6 264.5h0M234.6 266.6h0M233.1 269.4h0M234.0 269.3h0M231.6 270.3h0M231.7 274.1h0M231.3 274.8h0M230.4 276.1h0M232.4 278.3h0M230.5 279.7h0M229.5 279.0h0M229.3 280.4h0M230.1 284.5h0M229.2 285.5h0M221.6 309.0h0M222.0 309.9h0M219.4 313.0h0M219.9 315.5h0M219.9 313.9h0M220.3 315.7h0M218.5 319.2h0M219.7 320.9h0M220.2 322.3h0M218.9 322.2h0M217.1 325.2h0M218.4 325.1h0M216.0 327.2h0M217.9 329.5h0M215.3 328.6h0M216.0 330.9h0M215.0 334.1h0M215.4 335.2h0M213.8 335.6h0M215.1 337.7h0M254.8 220.6h0M255.8 219.5h0M256.7 218.9h0M258.3 219.0h0M260.3 220.5h0M261.8 218.6h0M263.5 219.2h0M264.7 218.5h0M267.2 217.6h0M218.7 106.3h0M230.1 96.1h0M217.4 117.4h0M224.1 111.1h0M215.3 124.0h0M233.4 94.1h0M223.3 111.8h0M220.6 103.5h0M217.9 119.6h0M228.4 97.5h0M221.6 111.6h0M216.1 120.8h0M217.4 109.3h0M223.4 103.6h0M222.4 111.0h0M212.4 120.6h0M217.3 112.4h0M218.8 107.8h0M223.6 110.8h0M220.1 116.2h0M220.7 108.0h0M224.2 106.0h0M223.8 100.6h0M220.9 102.8h0M224.3 106.7h0M220.0 105.0h0M219.1 108.6h0M220.9 109.6h0M222.8 111.1h0M216.2 122.1h0M222.4 104.2h0M222.0 105.4h0M223.5 106.1h0M227.4 98.6h0M214.6 120.4h0M218.3 113.8h0M221.6 111.5h0M219.0 111.3h0M218.7 115.5h0M221.6 103.3h0M222.6 110.3h0M213.9 105.4h0M212.8 120.7h0M225.8 99.6h0M221.2 115.8h0M225.2 101.7h0M221.1 117.0h0M223.8 101.1h0M216.9 109.8h0M216.1 116.2h0M225.9 99.0h0M229.5 97.2h0M220.9 113.5h0M219.7 115.9h0M220.5 121.7h0M216.7 119.6h0M218.0 102.8h0M216.4 104.0h0M221.6 106.0h0M223.7 108.9h0M223.6 117.7h0M227.1 100.6h0M221.0 106.0h0M232.5 95.5h0M221.9 104.8h0M223.0 111.0h0M220.6 107.9h0M220.1 120.6h0M215.1 118.0h0M215.1 118.4h0M224.2 107.6h0M220.4 113.3h0M216.1 122.1h0M220.6 100.9h0M217.0 102.2h0M220.8 109.4h0M222.5 100.2h0M216.0 106.8h0M218.8 106.7h0M221.3 105.1h0M218.2 105.7h0M224.7 101.1h0M220.4 113.9h0M216.9 116.4h0M217.0 103.0h0M221.8 114.7h0M220.4 117.9h0M216.5 106.7h0M218.6 110.5h0M226.0 99.5h0M216.2 114.9h0M221.3 113.3h0M225.9 100.4h0M215.6 114.7h0M219.4 111.8h0M220.3 108.8h0M220.8 117.0h0M216.6 110.8h0M217.5 120.9h0M218.1 121.7h0M221.0 109.8h0M232.6 94.3h0M224.0 103.9h0M223.8 105.7h0M226.1 98.7h0M226.3 102.2h0M218.6 108.5h0M216.6 105.5h0M218.3 120.9h0M218.3 122.7h0M226.3 97.4h0M227.6 98.1h0M229.1 96.3h0M230.7 95.0h0M231.1 95.0h0M233.5 94.0h0M88.1 135.2h0M91.2 144.3h0M93.5 157.0h0M90.0 128.0h0M54.7 164.4h0M54.7 184.3h0M30.9 205.6h0M65.5 142.3h0M71.3 138.8h0M65.5 149.8h0M71.0 148.4h0M66.3 154.5h0M69.1 155.3h0M85.1 163.3h0M79.6 134.6h0M80.1 140.7h0M85.7 126.3h0M88.4 123.6h0M236.8 86.3h0M235.7 89.0h0M245.9 78.0h0M246.8 83.5h0M230.2 159.5h0M232.7 163.6h0M218.4 199.4h0M221.0 198.6h0M203.5 124.7h0M203.7 229.8h0M216.3 251.5h0M227.4 268.5h0M223.6 274.1h0M185.4 281.4h0M191.3 280.0h0M199.1 288.0h0M211.5 296.2h0M219.6 295.5h0M223.0 292.9h0M195.8 305.7h0M194.9 315.6h0M217.4 350.3h0M223.0 351.5h0M225.0 352.7h0M239.5 343.7h0M236.7 348.6h0M268.3 343.5h0M278.2 362.3h0" fill="none" stroke="#696969" stroke-width="5.5" stroke-linecap="round"/>
<path d="M242.5 359.7h0M266.0 371.0h0M277.5 378.2h0M275.4 364.7h0M285.8 376.9h0M269.9 359.3h0M274.9 366.5h0M288.9 384.5h0M274.7 367.0h0M280.3 365.2h0M281.4 373.8h0M270.8 361.7h0M288.8 383.0h0M282.4 372.5h0M288.2 385.5h0M278.1 369.3h0M272.7 363.6h0M274.6 363.4h0M275.7 369.3h0M288.9 382.1h0M269.7 360.1h0M286.1 380.1h0M272.3 358.5h0M275.3 367.3h0M282.2 376.9h0M273.8 364.0h0M278.8 367.4h0M285.9 377.7h0M277.8 369.6h0M287.1 374.1h0M277.9 371.7h0M279.5 370.0h0M276.2 365.6h0M272.6 358.7h0M286.2 377.1h0M274.5 364.8h0M277.5 365.9h0M286.9 384.7h0M276.1 362.3h0M274.1 367.3h0M278.2 366.4h0M283.2 382.7h0M270.6 364.4h0M282.7 374.1h0M285.2 379.5h0M285.0 376.8h0M278.4 373.2h0M282.9 377.9h0M280.6 372.7h0M289.8 380.7h0M286.2 375.3h0M282.1 375.5h0M287.8 380.3h0M287.4 381.2h0M284.4 381.0h0M277.1 369.0h0M278.5 367.9h0M274.9 363.4h0M291.7 382.6h0M288.8 379.9h0M282.2 375.5h0M286.0 378.2h0M270.8 360.5h0M289.1 383.3h0M274.4 359.4h0M282.1 380.2h0M285.6 377.1h0M269.6 362.7h0M286.8 382.5h0M273.4 365.2h0M268.0 356.5h0M281.9 370.3h0M277.9 370.8h0M270.4 358.5h0M268.9 353.6h0M272.6 357.5h0M273.2 358.5h0M268.9 361.1h0M273.0 362.9h0M268.2 353.4h0M271.5 354.8h0M273.1 358.7h0M267.1 354.7h0M267.6 356.2h0M270.7 359.2h0M271.9 359.1h0M270.1 356.5h0M267.3 358.9h0M271.1 358.3h0M274.1 357.0h0M274.6 363.8h0M268.8 358.2h0M271.8 355.5h0M270.4 361.0h0M271.9 357.1h0M285.8 381.1h0M288.7 382.6h0M286.6 385.6h0M287.5 381.6h0M285.2 380.0h0M289.0 384.6h0M285.4 381.3h0M288.5 385.5h0M283.0 380.5h0M288.1 383.9h0M289.8 384.7h0M285.6 383.8h0M287.3 381.4h0M287.2 381.8h0" fill="none" stroke="#f0656a" stroke-width="5.5" stroke-linecap="round"/>
<path d="M280.9 369.9h0M285.1 367.8h0M287.4 371.0h0" fill="none" stroke="#696969" stroke-width="5.5" stroke-linecap="round"/>
<path d="M255.9 351.7L256.5 349.7L257.3 347.8L258.0 346.0L258.9 344.1L259.8 342.3L260.7 340.6L261.7 338.9L262.7 337.3L263.8 335.7L264.9 334.2L266.0 332.7L267.2 331.3L268.4 330.0L269.6 328.8L270.9 327.7L272.1 326.7L273.4 325.7L274.7 324.8L276.0 324.1L277.3 323.4L278.6 322.8L279.9 322.3L281.3 322.0L282.5 321.7L283.8 321.5L285.1 321.5L286.3 321.5L287.6 321.6L288.7 321.9L289.9 322.2L291.0 322.7L292.1 323.2L293.2 323.9L294.2 324.6L295.2 325.5L296.1 326.4L297.0 327.4L297.8 328.5L298.5 329.7L299.2 331.0L299.9 332.4L300.5 333.8L301.0 335.3L301.5 336.9L301.9 338.5L302.2 340.2L302.5 341.9L302.7 343.7L302.8 345.5L302.8 347.4L302.8 349.3L302.7 351.2L302.6 353.1L302.4 355.1L302.1 357.1L301.8 359.1L301.3 361.0L300.9 363.0L300.3 365.0L299.7 366.9L299.1 368.9L298.3 370.8L297.6 372.6L296.7 374.5L295.8 376.3L294.9 378.0L293.9 379.7L292.9 381.3L291.8 382.9L290.7 384.4L289.6 385.9L288.4 387.3L287.2 388.6L286.0 389.8L284.7 390.9L283.5 391.9L282.2 392.9L280.9 393.8L279.6 394.5L278.3 395.2L277.0 395.8L275.7 396.3L274.3 396.6L273.1 396.9L271.8 397.1L270.5 397.1L269.3 397.1L268.0 397.0L266.9 396.7L265.7 396.4L264.6 395.9L263.5 395.4L262.4 394.7L261.4 394.0L260.4 393.1L259.5 392.2L258.6 391.2L257.8 390.1L257.1 388.9L256.4 387.6L255.7 386.2L255.1 384.8L254.6 383.3L254.1 381.7L253.7 380.1L253.4 378.4L253.1 376.7L252.9 374.9L252.8 373.1L252.8 371.2L252.8 369.3L252.9 367.4L253.0 365.5L253.2 363.5L253.5 361.5L253.8 359.5L254.3 357.6L254.7 355.6L255.3 353.6L255.9 351.7" fill="none" stroke="#0a0a0a" stroke-width="2" stroke-dasharray="11.45 19.41"/>
<circle cx="300.5" cy="52.2" r="8.7" fill="#7a7a7a"/>
<circle cx="300.5" cy="100.9" r="8.7" fill="#f2686b"/>
<text x="324.6" y="60.9" font-size="28" textLength="97.5" lengthAdjust="spacingAndGlyphs">Ciliated</text>
<text x="324.6" y="110.2" font-size="28" textLength="107.5" lengthAdjust="spacingAndGlyphs">Ciliated/</text>
<text x="324.6" y="142.7" font-size="28" textLength="124" lengthAdjust="spacingAndGlyphs">microfold</text>
<path d="M566 58.5V179.9H715M593.7 179.9v6M640.2 179.9v6M686.6 179.9v6M559.4 174.2H566M559.4 133.2H566M559.4 92H566" fill="none" stroke="#1c1c1c" stroke-width="1.5" stroke-linejoin="miter"/>
<text x="548.6" y="181.5" font-size="25" text-anchor="end" textLength="14.8" lengthAdjust="spacingAndGlyphs">0</text>
<text x="548.6" y="140.5" font-size="25" text-anchor="end" textLength="12.6" lengthAdjust="spacingAndGlyphs">1</text>
<text x="548.6" y="99.3" font-size="25" text-anchor="end" textLength="14" lengthAdjust="spacingAndGlyphs">2</text>
<text x="639.7" y="46.8" font-size="28.6" text-anchor="middle" font-style="italic" textLength="71" lengthAdjust="spacingAndGlyphs">SOX8</text>
<rect x="581.90" y="195.9" width="23.2" height="23.2" fill="#666666" stroke="#111" stroke-width="1.5"/>
<rect x="628.30" y="195.9" width="23.2" height="23.2" fill="#f76d6e" stroke="#111" stroke-width="1.5"/>
<rect x="674.80" y="195.9" width="23.2" height="23.2" fill="#d4271e" stroke="#111" stroke-width="1.5"/>
<text transform="translate(516.0 119) rotate(-90)" font-size="28.4" text-anchor="middle" textLength="147.5" lengthAdjust="spacingAndGlyphs">mRNA level</text>
<path d="M593.7 64.1V174.2M572.4000000000001 174.2H615.0" fill="none" stroke="#2e2e2e" stroke-width="1.4"/>
<path d="M640.2 117.2V174.2M618.9000000000001 174.2H661.5" fill="none" stroke="#2e2e2e" stroke-width="1.4"/>
<path d="M688.4 102.6C688.4 104.0 688.3 109.0 688.4 111.0C688.5 113.0 688.6 113.4 688.8 114.5C689.0 115.6 688.7 115.8 689.5 117.8C690.3 119.8 692.2 123.8 693.5 126.8C694.8 129.8 696.0 132.8 697.1 135.8C698.2 138.8 699.2 141.8 700.2 144.8C701.2 147.8 702.4 150.7 703.4 153.7C704.4 156.7 705.4 160.3 706.1 162.7C706.8 165.1 707.4 166.7 707.7 168.1C708.0 169.5 708.0 170.1 707.9 171.0C707.8 171.9 707.6 172.7 707.3 173.3C707.0 173.9 706.1 174.2 705.9 174.4L667.3 174.4C667.1 174.2 666.2 173.9 665.9 173.3C665.6 172.7 665.4 171.9 665.3 171.0C665.2 170.1 665.2 169.5 665.5 168.1C665.8 166.7 666.4 165.1 667.1 162.7C667.8 160.3 668.8 156.7 669.8 153.7C670.8 150.7 672.0 147.8 673.0 144.8C674.0 141.8 675.0 138.8 676.1 135.8C677.2 132.8 678.4 129.8 679.7 126.8C681.0 123.8 682.9 119.8 683.7 117.8C684.5 115.8 684.2 115.6 684.4 114.5C684.6 113.4 684.7 113.0 684.8 111.0C684.9 109.0 684.8 104.0 684.8 102.6Z" fill="#d4271e" stroke="#2e2e2e" stroke-width="1.3" stroke-linejoin="round"/>
<path d="M841 58.5V179.9H990M868.7 179.9v6M915.2 179.9v6M961.6 179.9v6M834.4 174.2H841M834.4 140.7H841M834.4 107.2H841M834.4 73.9H841" fill="none" stroke="#1c1c1c" stroke-width="1.5" stroke-linejoin="miter"/>
<text x="823.6" y="181.5" font-size="25" text-anchor="end" textLength="14.8" lengthAdjust="spacingAndGlyphs">0</text>
<text x="823.6" y="148.0" font-size="25" text-anchor="end" textLength="12.6" lengthAdjust="spacingAndGlyphs">1</text>
<text x="823.6" y="114.5" font-size="25" text-anchor="end" textLength="14" lengthAdjust="spacingAndGlyphs">2</text>
<text x="823.6" y="81.2" font-size="25" text-anchor="end" textLength="14" lengthAdjust="spacingAndGlyphs">3</text>
<text x="915.2" y="46.8" font-size="28.6" text-anchor="middle" font-style="italic" textLength="56" lengthAdjust="spacingAndGlyphs">SPIB</text>
<rect x="857.05" y="195.9" width="23.2" height="23.2" fill="#666666" stroke="#111" stroke-width="1.5"/>
<rect x="903.50" y="195.9" width="23.2" height="23.2" fill="#f76d6e" stroke="#111" stroke-width="1.5"/>
<rect x="949.80" y="195.9" width="23.2" height="23.2" fill="#d4271e" stroke="#111" stroke-width="1.5"/>
<text transform="translate(790.5 119) rotate(-90)" font-size="28.4" text-anchor="middle" textLength="147.5" lengthAdjust="spacingAndGlyphs">mRNA level</text>
<path d="M868.7 93.1V174.2M847.4000000000001 174.2H890.0" fill="none" stroke="#2e2e2e" stroke-width="1.4"/>
<path d="M922.2 81.2C922.4 81.4 922.8 81.7 923.1 82.6C923.4 83.5 923.4 82.6 924.0 86.7C924.6 90.8 926.3 100.1 926.9 107.3C927.5 114.5 927.5 123.3 927.5 130.0C927.5 136.7 927.0 143.7 927.2 147.7C927.4 151.7 927.8 152.1 928.5 154.0C929.2 155.9 930.7 157.5 931.6 159.3C932.5 161.2 933.3 163.3 934.1 165.1C934.9 166.9 935.8 168.7 936.2 170.0C936.6 171.3 936.7 172.1 936.6 172.8C936.5 173.5 935.9 174.1 935.8 174.4L894.6 174.4C894.5 174.1 893.9 173.5 893.8 172.8C893.7 172.1 893.8 171.3 894.2 170.0C894.6 168.7 895.5 166.9 896.3 165.1C897.1 163.3 897.9 161.2 898.8 159.3C899.7 157.5 901.2 155.9 901.9 154.0C902.6 152.1 903.0 151.7 903.2 147.7C903.4 143.7 902.9 136.7 902.9 130.0C903.0 123.3 902.9 114.5 903.5 107.3C904.1 100.1 905.8 90.8 906.4 86.7C907.0 82.6 907.0 83.5 907.3 82.6C907.6 81.7 908.1 81.4 908.2 81.2Z" fill="#f76d6e" stroke="#2e2e2e" stroke-width="1.3" stroke-linejoin="round"/>
<path d="M963.6 64.4C963.6 65.7 963.4 70.2 963.6 72.0C963.8 73.8 963.8 73.8 964.8 75.5C965.9 77.2 967.8 80.1 969.9 82.4C972.0 84.8 975.7 87.7 977.6 89.6C979.5 91.5 980.3 92.8 981.1 94.0C981.9 95.2 982.3 94.7 982.5 96.9C982.7 99.1 982.4 104.2 982.2 107.3C982.1 110.4 982.0 113.7 981.6 115.8C981.2 117.9 980.7 118.5 979.9 120.0C979.1 121.5 978.2 122.5 976.8 124.5C975.4 126.5 972.6 129.9 971.2 131.7C969.8 133.5 969.2 134.4 968.5 135.3C967.8 136.2 967.4 136.7 967.2 137.0L956.0 137.0C955.8 136.7 955.4 136.2 954.7 135.3C954.0 134.4 953.4 133.5 952.0 131.7C950.6 129.9 947.8 126.5 946.4 124.5C945.0 122.5 944.1 121.5 943.3 120.0C942.5 118.5 942.0 117.9 941.6 115.8C941.2 113.7 941.1 110.4 941.0 107.3C940.9 104.2 940.5 99.1 940.7 96.9C940.9 94.7 941.3 95.2 942.1 94.0C942.9 92.8 943.7 91.5 945.6 89.6C947.5 87.7 951.2 84.8 953.3 82.4C955.4 80.1 957.4 77.2 958.4 75.5C959.4 73.8 959.4 73.8 959.6 72.0C959.8 70.2 959.6 65.7 959.6 64.4Z" fill="#d4271e" stroke="#2e2e2e" stroke-width="1.3" stroke-linejoin="round"/>
<path d="M1101.4 58.5V179.9H1250.4M1129.1 179.9v6M1175.6 179.9v6M1222.0 179.9v6M1094.8000000000002 174.2H1101.4M1094.8000000000002 140.7H1101.4M1094.8000000000002 107.2H1101.4M1094.8000000000002 73.9H1101.4" fill="none" stroke="#1c1c1c" stroke-width="1.5" stroke-linejoin="miter"/>
<text x="1084.0" y="181.5" font-size="25" text-anchor="end" textLength="14.8" lengthAdjust="spacingAndGlyphs">0</text>
<text x="1084.0" y="148.0" font-size="25" text-anchor="end" textLength="12.6" lengthAdjust="spacingAndGlyphs">1</text>
<text x="1084.0" y="114.5" font-size="25" text-anchor="end" textLength="14" lengthAdjust="spacingAndGlyphs">2</text>
<text x="1084.0" y="81.2" font-size="25" text-anchor="end" textLength="14" lengthAdjust="spacingAndGlyphs">3</text>
<text x="1175.7" y="46.8" font-size="28.6" text-anchor="middle" font-style="italic" textLength="49" lengthAdjust="spacingAndGlyphs">GP2</text>
<rect x="1117.45" y="195.9" width="23.2" height="23.2" fill="#666666" stroke="#111" stroke-width="1.5"/>
<rect x="1163.90" y="195.9" width="23.2" height="23.2" fill="#f76d6e" stroke="#111" stroke-width="1.5"/>
<rect x="1210.20" y="195.9" width="23.2" height="23.2" fill="#d4271e" stroke="#111" stroke-width="1.5"/>
<text transform="translate(1049.0 119) rotate(-90)" font-size="28.4" text-anchor="middle" textLength="147.5" lengthAdjust="spacingAndGlyphs">mRNA level</text>
<path d="M1129.1000000000001 90.5V174.2M1107.8000000000002 174.2H1150.4" fill="none" stroke="#2e2e2e" stroke-width="1.4"/>
<path d="M1175.6000000000001 168.6V174.2M1154.3000000000002 174.2H1196.9" fill="none" stroke="#2e2e2e" stroke-width="1.4"/>
<path d="M1227.2 64.2C1227.3 64.4 1227.7 64.0 1228.0 65.5C1228.3 67.0 1228.7 70.2 1229.2 73.0C1229.8 75.8 1230.5 79.0 1231.3 82.0C1232.0 85.0 1232.8 87.9 1233.7 90.9C1234.6 93.9 1235.5 97.0 1236.5 100.0C1237.5 103.0 1238.5 105.9 1239.5 108.9C1240.5 111.9 1241.6 115.6 1242.2 117.8C1242.8 120.0 1242.8 120.7 1243.0 122.0C1243.2 123.3 1243.3 124.6 1243.3 125.9C1243.3 127.2 1243.2 128.3 1242.8 130.0C1242.4 131.7 1242.0 133.3 1241.0 135.8C1240.0 138.3 1238.3 141.8 1237.0 144.8C1235.7 147.8 1234.4 150.7 1233.2 153.7C1232.0 156.7 1230.4 160.7 1229.6 162.7C1228.8 164.7 1228.9 164.9 1228.6 165.5C1228.3 166.1 1227.9 166.3 1227.8 166.5L1216.2 166.5C1216.1 166.3 1215.7 166.1 1215.4 165.5C1215.1 164.9 1215.2 164.7 1214.4 162.7C1213.6 160.7 1212.0 156.7 1210.8 153.7C1209.6 150.7 1208.3 147.8 1207.0 144.8C1205.7 141.8 1204.0 138.3 1203.0 135.8C1202.0 133.3 1201.6 131.7 1201.2 130.0C1200.8 128.3 1200.7 127.2 1200.7 125.9C1200.7 124.6 1200.8 123.3 1201.0 122.0C1201.2 120.7 1201.2 120.0 1201.8 117.8C1202.4 115.6 1203.5 111.9 1204.5 108.9C1205.5 105.9 1206.5 103.0 1207.5 100.0C1208.5 97.0 1209.4 93.9 1210.3 90.9C1211.2 87.9 1212.0 85.0 1212.7 82.0C1213.5 79.0 1214.2 75.8 1214.8 73.0C1215.3 70.2 1215.7 67.0 1216.0 65.5C1216.3 64.0 1216.7 64.4 1216.8 64.2Z" fill="#d4271e" stroke="#2e2e2e" stroke-width="1.3" stroke-linejoin="round"/>
<path d="M1375 58.5V179.9H1524M1402.7 179.9v6M1449.2 179.9v6M1495.6 179.9v6M1368.4 174.2H1375M1368.4 136.6H1375M1368.4 98.9H1375M1368.4 61.1H1375" fill="none" stroke="#1c1c1c" stroke-width="1.5" stroke-linejoin="miter"/>
<text x="1357.6" y="181.5" font-size="25" text-anchor="end" textLength="14.8" lengthAdjust="spacingAndGlyphs">0</text>
<text x="1357.6" y="143.9" font-size="25" text-anchor="end" textLength="12.6" lengthAdjust="spacingAndGlyphs">1</text>
<text x="1357.6" y="106.2" font-size="25" text-anchor="end" textLength="14" lengthAdjust="spacingAndGlyphs">2</text>
<text x="1357.6" y="68.4" font-size="25" text-anchor="end" textLength="14" lengthAdjust="spacingAndGlyphs">3</text>
<text x="1448.6" y="46.8" font-size="28.6" text-anchor="middle" font-style="italic" textLength="86" lengthAdjust="spacingAndGlyphs">CCL20</text>
<rect x="1391.00" y="195.9" width="23.2" height="23.2" fill="#666666" stroke="#111" stroke-width="1.5"/>
<rect x="1437.30" y="195.9" width="23.2" height="23.2" fill="#f76d6e" stroke="#111" stroke-width="1.5"/>
<rect x="1483.70" y="195.9" width="23.2" height="23.2" fill="#d4271e" stroke="#111" stroke-width="1.5"/>
<text transform="translate(1323.1 119) rotate(-90)" font-size="28.4" text-anchor="middle" textLength="147.5" lengthAdjust="spacingAndGlyphs">mRNA level</text>
<path d="M1402.7 78V174.2M1381.4 174.2H1424.0" fill="none" stroke="#2e2e2e" stroke-width="1.4"/>
<path d="M1460.2 66.4C1460.5 66.7 1461.3 66.6 1461.7 68.0C1462.1 69.4 1462.4 72.8 1462.6 75.0C1462.8 77.2 1463.0 78.5 1462.8 81.0C1462.6 83.5 1462.0 87.1 1461.5 90.0C1461.0 92.9 1460.8 94.1 1459.8 98.4C1458.8 102.7 1456.3 111.0 1455.4 115.8C1454.5 120.6 1454.2 123.1 1454.6 127.4C1455.0 131.8 1456.1 137.6 1457.6 141.9C1459.1 146.2 1461.9 150.5 1463.4 153.5C1464.9 156.5 1465.5 158.1 1466.5 160.0C1467.5 161.9 1468.7 163.4 1469.4 165.1C1470.1 166.8 1470.3 168.7 1470.5 170.0C1470.7 171.3 1470.8 172.1 1470.6 172.8C1470.5 173.5 1469.8 174.1 1469.6 174.4L1428.8 174.4C1428.6 174.1 1427.9 173.5 1427.8 172.8C1427.7 172.1 1427.7 171.3 1427.9 170.0C1428.1 168.7 1428.3 166.8 1429.0 165.1C1429.7 163.4 1430.9 161.9 1431.9 160.0C1432.9 158.1 1433.5 156.5 1435.0 153.5C1436.5 150.5 1439.3 146.2 1440.8 141.9C1442.3 137.6 1443.4 131.8 1443.8 127.4C1444.2 123.1 1443.9 120.6 1443.0 115.8C1442.1 111.0 1439.6 102.7 1438.6 98.4C1437.6 94.1 1437.4 92.9 1436.9 90.0C1436.4 87.1 1435.8 83.5 1435.6 81.0C1435.4 78.5 1435.6 77.2 1435.8 75.0C1436.0 72.8 1436.3 69.4 1436.7 68.0C1437.1 66.6 1438.0 66.7 1438.2 66.4Z" fill="#f76d6e" stroke="#2e2e2e" stroke-width="1.3" stroke-linejoin="round"/>
<path d="M1503.9 64.4C1504.3 64.7 1505.3 64.9 1506.6 66.0C1507.9 67.1 1510.1 69.1 1511.6 70.8C1513.1 72.5 1514.6 74.3 1515.4 76.0C1516.2 77.7 1516.6 79.5 1516.6 81.0C1516.6 82.5 1516.3 83.6 1515.6 85.0C1514.9 86.4 1514.4 86.9 1512.6 89.6C1510.8 92.3 1507.1 97.4 1505.0 101.3C1502.9 105.2 1501.0 109.5 1499.8 112.9C1498.6 116.3 1498.5 117.7 1498.1 121.6C1497.6 125.5 1497.4 131.3 1497.1 136.1C1496.8 140.9 1496.5 145.8 1496.5 150.6C1496.5 155.4 1496.9 161.1 1497.1 165.1C1497.3 169.1 1497.5 172.8 1497.6 174.3L1493.6 174.3C1493.7 172.8 1493.9 169.1 1494.1 165.1C1494.3 161.1 1494.7 155.4 1494.7 150.6C1494.7 145.8 1494.4 140.9 1494.1 136.1C1493.8 131.3 1493.5 125.5 1493.1 121.6C1492.6 117.7 1492.5 116.3 1491.4 112.9C1490.2 109.5 1488.3 105.2 1486.2 101.3C1484.1 97.4 1480.4 92.3 1478.6 89.6C1476.8 86.9 1476.3 86.4 1475.6 85.0C1474.9 83.6 1474.6 82.5 1474.6 81.0C1474.6 79.5 1475.0 77.7 1475.8 76.0C1476.6 74.3 1478.1 72.5 1479.6 70.8C1481.1 69.1 1483.3 67.1 1484.6 66.0C1485.9 64.9 1486.8 64.7 1487.3 64.4Z" fill="#d4271e" stroke="#2e2e2e" stroke-width="1.3" stroke-linejoin="round"/>
<path d="M566 295V416.1H715M593.7 416.1v6M640.2 416.1v6M686.6 416.1v6M559.4 410.4H566M559.4 380.3H566M559.4 350.1H566M559.4 320.2H566" fill="none" stroke="#1c1c1c" stroke-width="1.5" stroke-linejoin="miter"/>
<text x="548.6" y="417.7" font-size="25" text-anchor="end" textLength="14.8" lengthAdjust="spacingAndGlyphs">0</text>
<text x="548.6" y="387.6" font-size="25" text-anchor="end" textLength="12.6" lengthAdjust="spacingAndGlyphs">1</text>
<text x="548.6" y="357.40000000000003" font-size="25" text-anchor="end" textLength="14" lengthAdjust="spacingAndGlyphs">2</text>
<text x="548.6" y="327.5" font-size="25" text-anchor="end" textLength="14" lengthAdjust="spacingAndGlyphs">3</text>
<text x="637.0" y="284.3" font-size="28.6" text-anchor="middle" font-style="italic" textLength="106" lengthAdjust="spacingAndGlyphs">TNFAIP2</text>
<rect x="581.90" y="432.7" width="23.2" height="23.2" fill="#666666" stroke="#111" stroke-width="1.5"/>
<rect x="628.30" y="432.7" width="23.2" height="23.2" fill="#f76d6e" stroke="#111" stroke-width="1.5"/>
<rect x="674.80" y="432.7" width="23.2" height="23.2" fill="#d4271e" stroke="#111" stroke-width="1.5"/>
<text transform="translate(516.0 355) rotate(-90)" font-size="28.4" text-anchor="middle" textLength="147.5" lengthAdjust="spacingAndGlyphs">mRNA level</text>
<path d="M594.1 318.2C594.1 327.1 594.2 360.8 594.3 371.9C594.4 383.0 594.6 381.6 594.9 385.0C595.2 388.4 595.7 390.1 596.0 392.0C596.3 393.9 596.7 395.2 596.7 396.5C596.7 397.8 596.3 398.8 596.0 400.0C595.7 401.2 595.1 402.9 595.1 403.8C595.1 404.7 595.4 405.0 595.9 405.5C596.4 406.0 596.9 406.3 598.2 406.7C599.5 407.1 601.6 407.6 603.7 408.0C605.8 408.4 608.9 408.9 610.7 409.2C612.5 409.5 614.0 409.8 614.7 410.0C615.4 410.2 615.0 410.5 615.0 410.6L572.4 410.6C572.5 410.5 572.0 410.2 572.7 410.0C573.4 409.8 574.9 409.5 576.7 409.2C578.5 408.9 581.6 408.4 583.7 408.0C585.8 407.6 587.9 407.1 589.2 406.7C590.5 406.3 591.0 406.0 591.5 405.5C592.0 405.0 592.3 404.7 592.3 403.8C592.3 402.9 591.7 401.2 591.4 400.0C591.1 398.8 590.7 397.8 590.7 396.5C590.7 395.2 591.1 393.9 591.4 392.0C591.7 390.1 592.2 388.4 592.5 385.0C592.8 381.6 593.0 383.0 593.1 371.9C593.2 360.8 593.3 327.1 593.3 318.2Z" fill="#666666" stroke="#2e2e2e" stroke-width="1.3" stroke-linejoin="round"/>
<path d="M643.6 300.4C643.7 300.8 643.5 299.8 644.4 302.5C645.3 305.2 647.0 311.5 648.9 316.9C650.8 322.3 653.9 329.5 655.9 334.9C657.9 340.3 660.0 345.5 661.0 349.2C662.0 352.9 661.6 355.0 661.6 357.3C661.6 359.6 661.4 360.8 660.8 363.0C660.2 365.2 659.3 367.4 658.2 370.8C657.1 374.2 654.9 378.9 654.1 383.4C653.3 387.9 653.8 393.8 653.5 397.7C653.2 401.6 652.9 404.8 652.5 406.7C652.1 408.6 651.8 408.6 651.2 409.3C650.7 410.0 649.5 410.4 649.2 410.6L631.2 410.6C630.9 410.4 629.8 410.0 629.2 409.3C628.7 408.6 628.3 408.6 627.9 406.7C627.5 404.8 627.2 401.6 626.9 397.7C626.6 393.8 627.1 387.9 626.3 383.4C625.5 378.9 623.3 374.2 622.2 370.8C621.1 367.4 620.2 365.2 619.6 363.0C619.0 360.8 618.8 359.6 618.8 357.3C618.8 355.0 618.5 352.9 619.4 349.2C620.4 345.5 622.5 340.3 624.5 334.9C626.5 329.5 629.6 322.3 631.5 316.9C633.4 311.5 635.1 305.2 636.0 302.5C636.9 299.8 636.7 300.8 636.8 300.4Z" fill="#f76d6e" stroke="#2e2e2e" stroke-width="1.3" stroke-linejoin="round"/>
<path d="M692.9 302.6C693.2 302.8 694.0 303.1 694.6 304.0C695.2 304.9 695.3 305.9 696.2 308.0C697.1 310.1 698.9 313.9 700.2 316.9C701.5 319.9 703.0 323.5 704.1 325.9C705.2 328.3 706.5 329.8 707.1 331.3C707.7 332.8 707.7 333.7 707.7 334.9C707.7 336.1 707.7 337.0 707.1 338.5C706.5 340.0 706.2 341.5 704.4 343.9C702.6 346.3 698.7 349.8 696.3 352.8C693.9 355.8 691.2 358.8 689.9 361.8C688.6 364.8 689.0 366.3 688.6 370.8C688.2 375.3 687.4 384.2 687.4 388.7C687.4 393.2 688.0 394.7 688.4 397.7C688.8 400.7 689.6 404.5 689.9 406.7C690.2 408.9 690.1 410.0 690.1 410.6L683.1 410.6C683.1 410.0 683.0 408.9 683.3 406.7C683.6 404.5 684.4 400.7 684.8 397.7C685.2 394.7 685.8 393.2 685.8 388.7C685.8 384.2 685.0 375.3 684.6 370.8C684.2 366.3 684.6 364.8 683.3 361.8C682.0 358.8 679.3 355.8 676.9 352.8C674.5 349.8 670.6 346.3 668.8 343.9C667.0 341.5 666.7 340.0 666.1 338.5C665.5 337.0 665.5 336.1 665.5 334.9C665.5 333.7 665.5 332.8 666.1 331.3C666.7 329.8 668.0 328.3 669.1 325.9C670.2 323.5 671.7 319.9 673.0 316.9C674.3 313.9 676.1 310.1 677.0 308.0C677.9 305.9 678.0 304.9 678.6 304.0C679.2 303.1 680.0 302.8 680.3 302.6Z" fill="#d4271e" stroke="#2e2e2e" stroke-width="1.3" stroke-linejoin="round"/>
<path d="M842.1 295V416.1H991.1M869.8 416.1v6M916.3 416.1v6M962.7 416.1v6M835.5 410.4H842.1M835.5 380.3H842.1M835.5 350.1H842.1M835.5 320.2H842.1" fill="none" stroke="#1c1c1c" stroke-width="1.5" stroke-linejoin="miter"/>
<text x="824.7" y="417.7" font-size="25" text-anchor="end" textLength="14.8" lengthAdjust="spacingAndGlyphs">0</text>
<text x="824.7" y="387.6" font-size="25" text-anchor="end" textLength="12.6" lengthAdjust="spacingAndGlyphs">1</text>
<text x="824.7" y="357.40000000000003" font-size="25" text-anchor="end" textLength="14" lengthAdjust="spacingAndGlyphs">2</text>
<text x="824.7" y="327.5" font-size="25" text-anchor="end" textLength="14" lengthAdjust="spacingAndGlyphs">3</text>
<text x="913.0" y="284.3" font-size="28.6" text-anchor="middle" font-style="italic" textLength="138.6" lengthAdjust="spacingAndGlyphs">TNFRSF11A</text>
<rect x="857.05" y="432.7" width="23.2" height="23.2" fill="#666666" stroke="#111" stroke-width="1.5"/>
<rect x="903.50" y="432.7" width="23.2" height="23.2" fill="#f76d6e" stroke="#111" stroke-width="1.5"/>
<rect x="949.80" y="432.7" width="23.2" height="23.2" fill="#d4271e" stroke="#111" stroke-width="1.5"/>
<text transform="translate(790.5 355) rotate(-90)" font-size="28.4" text-anchor="middle" textLength="147.5" lengthAdjust="spacingAndGlyphs">mRNA level</text>
<path d="M870.2 319.6C870.2 324.5 870.3 342.2 870.5 349.2C870.7 356.2 871.1 358.2 871.6 361.8C872.1 365.4 872.8 367.8 873.4 370.8C874.0 373.8 874.7 376.8 875.3 379.8C875.9 382.8 876.5 386.5 876.8 388.7C877.1 390.9 877.3 391.8 877.3 393.0C877.4 394.2 877.4 395.0 877.1 395.9C876.9 396.8 876.3 397.8 875.8 398.5C875.3 399.2 874.6 399.7 874.0 400.4C873.4 401.1 872.8 401.9 872.4 402.5C872.0 403.1 871.6 403.5 871.8 404.0C872.0 404.5 872.6 405.1 873.8 405.5C875.0 405.9 876.7 406.2 879.0 406.7C881.3 407.2 885.8 408.0 887.8 408.5C889.8 409.0 890.6 409.4 891.1 409.8C891.6 410.2 890.9 410.5 890.8 410.6L848.8 410.6C848.8 410.5 848.0 410.2 848.5 409.8C849.0 409.4 849.8 409.0 851.8 408.5C853.8 408.0 858.3 407.2 860.6 406.7C862.9 406.2 864.6 405.9 865.8 405.5C867.0 405.1 867.6 404.5 867.8 404.0C868.0 403.5 867.6 403.1 867.2 402.5C866.8 401.9 866.2 401.1 865.6 400.4C865.0 399.7 864.3 399.2 863.8 398.5C863.3 397.8 862.8 396.8 862.5 395.9C862.3 395.0 862.3 394.2 862.3 393.0C862.4 391.8 862.5 390.9 862.8 388.7C863.1 386.5 863.7 382.8 864.3 379.8C864.9 376.8 865.6 373.8 866.2 370.8C866.8 367.8 867.5 365.4 868.0 361.8C868.5 358.2 868.9 356.2 869.1 349.2C869.3 342.2 869.4 324.5 869.4 319.6Z" fill="#666666" stroke="#2e2e2e" stroke-width="1.3" stroke-linejoin="round"/>
<path d="M918.3 300.4C918.4 301.2 918.4 303.1 918.6 305.0C918.8 306.9 918.7 308.6 919.6 311.5C920.5 314.4 922.3 318.7 923.9 322.3C925.5 325.9 927.9 329.8 929.1 333.1C930.3 336.4 930.7 339.1 930.9 342.1C931.1 345.1 930.0 348.3 930.5 351.0C931.0 353.7 932.7 355.8 933.8 358.2C934.9 360.6 936.6 363.6 937.2 365.4C937.8 367.2 937.9 367.5 937.6 369.0C937.3 370.5 936.9 372.0 935.4 374.4C933.9 376.8 930.5 380.4 928.4 383.4C926.3 386.4 924.2 389.9 923.0 392.3C921.8 394.7 921.3 395.3 921.0 397.7C920.7 400.1 921.0 404.7 921.0 406.7C921.0 408.7 921.1 408.9 920.9 409.5C920.8 410.1 920.2 410.4 920.1 410.6L912.5 410.6C912.4 410.4 911.9 410.1 911.7 409.5C911.6 408.9 911.6 408.7 911.6 406.7C911.6 404.7 911.9 400.1 911.6 397.7C911.3 395.3 910.8 394.7 909.6 392.3C908.4 389.9 906.3 386.4 904.2 383.4C902.1 380.4 898.7 376.8 897.2 374.4C895.7 372.0 895.3 370.5 895.0 369.0C894.7 367.5 894.8 367.2 895.4 365.4C896.0 363.6 897.7 360.6 898.8 358.2C899.9 355.8 901.6 353.7 902.1 351.0C902.6 348.3 901.5 345.1 901.7 342.1C901.9 339.1 902.3 336.4 903.5 333.1C904.7 329.8 907.1 325.9 908.7 322.3C910.3 318.7 912.1 314.4 913.0 311.5C913.9 308.6 913.8 306.9 914.0 305.0C914.2 303.1 914.3 301.2 914.3 300.4Z" fill="#f76d6e" stroke="#2e2e2e" stroke-width="1.3" stroke-linejoin="round"/>
<path d="M965.4 308.0C965.6 308.2 966.0 308.6 966.7 309.5C967.5 310.4 968.5 311.5 969.9 313.3C971.3 315.1 974.0 318.1 975.3 320.5C976.7 322.9 977.3 325.0 978.0 327.7C978.7 330.4 978.9 334.0 979.7 336.7C980.5 339.4 982.3 342.0 983.0 343.9C983.7 345.8 983.8 346.8 983.8 348.3C983.8 349.8 984.3 350.6 983.0 352.8C981.7 355.1 978.5 358.8 976.2 361.8C973.9 364.8 971.0 368.4 969.3 370.8C967.6 373.2 966.8 375.2 966.2 376.5C965.6 377.8 965.6 378.0 965.5 378.3L959.9 378.3C959.8 378.0 959.8 377.8 959.2 376.5C958.6 375.2 957.8 373.2 956.1 370.8C954.4 368.4 951.5 364.8 949.2 361.8C946.9 358.8 943.7 355.1 942.4 352.8C941.1 350.6 941.6 349.8 941.6 348.3C941.6 346.8 941.7 345.8 942.4 343.9C943.1 342.0 944.9 339.4 945.7 336.7C946.5 334.0 946.7 330.4 947.4 327.7C948.1 325.0 948.8 322.9 950.1 320.5C951.5 318.1 954.1 315.1 955.5 313.3C956.9 311.5 958.0 310.4 958.7 309.5C959.5 308.6 959.8 308.2 960.0 308.0Z" fill="#d4271e" stroke="#2e2e2e" stroke-width="1.3" stroke-linejoin="round"/>
<path d="M1101.6 295V416.1H1250.6M1129.3 416.1v6M1175.8 416.1v6M1222.2 416.1v6M1095.0 410.4H1101.6M1095.0 383.2H1101.6M1095.0 356.2H1101.6M1095.0 328.9H1101.6M1095.0 302H1101.6" fill="none" stroke="#1c1c1c" stroke-width="1.5" stroke-linejoin="miter"/>
<text x="1084.1999999999998" y="417.7" font-size="25" text-anchor="end" textLength="14.8" lengthAdjust="spacingAndGlyphs">0</text>
<text x="1084.1999999999998" y="390.5" font-size="25" text-anchor="end" textLength="12.6" lengthAdjust="spacingAndGlyphs">1</text>
<text x="1084.1999999999998" y="363.5" font-size="25" text-anchor="end" textLength="14" lengthAdjust="spacingAndGlyphs">2</text>
<text x="1084.1999999999998" y="336.2" font-size="25" text-anchor="end" textLength="14" lengthAdjust="spacingAndGlyphs">3</text>
<text x="1084.1999999999998" y="309.3" font-size="25" text-anchor="end" textLength="14.6" lengthAdjust="spacingAndGlyphs">4</text>
<text x="1176.4" y="284.3" font-size="28.6" text-anchor="middle" font-style="italic" textLength="50" lengthAdjust="spacingAndGlyphs">AIF1</text>
<rect x="1117.45" y="432.7" width="23.2" height="23.2" fill="#666666" stroke="#111" stroke-width="1.5"/>
<rect x="1163.90" y="432.7" width="23.2" height="23.2" fill="#f76d6e" stroke="#111" stroke-width="1.5"/>
<rect x="1210.20" y="432.7" width="23.2" height="23.2" fill="#d4271e" stroke="#111" stroke-width="1.5"/>
<text transform="translate(1049.0 355) rotate(-90)" font-size="28.4" text-anchor="middle" textLength="147.5" lengthAdjust="spacingAndGlyphs">mRNA level</text>
<path d="M1129.3 313.8V410.4M1108.0 410.4H1150.6" fill="none" stroke="#2e2e2e" stroke-width="1.4"/>
<path d="M1176.5 312.4C1176.5 324.5 1176.6 371.7 1176.7 385.0C1176.8 398.3 1177.1 389.9 1177.4 392.0C1177.7 394.1 1178.4 396.1 1178.5 397.7C1178.6 399.3 1178.2 400.4 1178.0 401.5C1177.8 402.6 1177.3 403.3 1177.4 404.0C1177.5 404.7 1177.8 405.1 1178.8 405.6C1179.8 406.1 1181.5 406.5 1183.3 407.0C1185.1 407.5 1187.7 408.0 1189.8 408.5C1191.9 409.0 1194.6 409.4 1195.8 409.8C1197.0 410.2 1196.9 410.5 1197.1 410.6L1154.5 410.6C1154.7 410.5 1154.6 410.2 1155.8 409.8C1157.0 409.4 1159.7 409.0 1161.8 408.5C1163.9 408.0 1166.5 407.5 1168.3 407.0C1170.1 406.5 1171.8 406.1 1172.8 405.6C1173.8 405.1 1174.1 404.7 1174.2 404.0C1174.3 403.3 1173.8 402.6 1173.6 401.5C1173.4 400.4 1173.0 399.3 1173.1 397.7C1173.2 396.1 1173.9 394.1 1174.2 392.0C1174.5 389.9 1174.8 398.3 1174.9 385.0C1175.0 371.7 1175.1 324.5 1175.1 312.4Z" fill="#f76d6e" stroke="#2e2e2e" stroke-width="1.3" stroke-linejoin="round"/>
<path d="M1232.2 300.6C1232.5 300.8 1233.2 300.8 1234.2 302.0C1235.2 303.2 1236.9 305.8 1238.2 308.0C1239.5 310.2 1241.0 313.0 1241.9 315.1C1242.7 317.2 1243.3 318.7 1243.3 320.5C1243.3 322.3 1243.2 323.5 1241.7 325.9C1240.2 328.3 1236.9 331.9 1234.5 334.9C1232.1 337.9 1229.0 341.5 1227.4 343.9C1225.8 346.3 1225.2 347.3 1224.8 349.2C1224.4 351.1 1224.8 352.6 1225.2 355.0C1225.5 357.4 1226.7 361.1 1226.9 363.6C1227.1 366.1 1226.7 367.9 1226.4 370.0C1226.1 372.1 1225.6 372.8 1225.2 376.2C1224.7 379.6 1223.8 386.3 1223.7 390.5C1223.6 394.7 1224.4 397.9 1224.8 401.3C1225.2 404.7 1226.0 409.1 1226.2 410.6L1218.2 410.6C1218.4 409.1 1219.2 404.7 1219.6 401.3C1220.0 397.9 1220.8 394.7 1220.7 390.5C1220.6 386.3 1219.6 379.6 1219.2 376.2C1218.7 372.8 1218.3 372.1 1218.0 370.0C1217.7 367.9 1217.3 366.1 1217.5 363.6C1217.7 361.1 1218.8 357.4 1219.2 355.0C1219.5 352.6 1220.0 351.1 1219.6 349.2C1219.2 347.3 1218.6 346.3 1217.0 343.9C1215.4 341.5 1212.3 337.9 1209.9 334.9C1207.5 331.9 1204.2 328.3 1202.7 325.9C1201.2 323.5 1201.1 322.3 1201.1 320.5C1201.1 318.7 1201.6 317.2 1202.5 315.1C1203.3 313.0 1204.9 310.2 1206.2 308.0C1207.5 305.8 1209.2 303.2 1210.2 302.0C1211.2 300.8 1211.9 300.8 1212.2 300.6Z" fill="#d4271e" stroke="#2e2e2e" stroke-width="1.3" stroke-linejoin="round"/>
<path d="M1375 295V416.1H1524M1402.7 416.1v6M1449.2 416.1v6M1495.6 416.1v6M1368.4 410.4H1375M1368.4 372.2H1375M1368.4 334.2H1375" fill="none" stroke="#1c1c1c" stroke-width="1.5" stroke-linejoin="miter"/>
<text x="1357.6" y="417.7" font-size="25" text-anchor="end" textLength="14.8" lengthAdjust="spacingAndGlyphs">0</text>
<text x="1357.6" y="379.5" font-size="25" text-anchor="end" textLength="12.6" lengthAdjust="spacingAndGlyphs">1</text>
<text x="1357.6" y="341.5" font-size="25" text-anchor="end" textLength="14" lengthAdjust="spacingAndGlyphs">2</text>
<text x="1449.6" y="284.3" font-size="28.6" text-anchor="middle" font-style="italic" textLength="76" lengthAdjust="spacingAndGlyphs">FOXJ1</text>
<rect x="1391.00" y="432.7" width="23.2" height="23.2" fill="#666666" stroke="#111" stroke-width="1.5"/>
<rect x="1437.30" y="432.7" width="23.2" height="23.2" fill="#f76d6e" stroke="#111" stroke-width="1.5"/>
<rect x="1483.70" y="432.7" width="23.2" height="23.2" fill="#d4271e" stroke="#111" stroke-width="1.5"/>
<text transform="translate(1323.1 355) rotate(-90)" font-size="28.4" text-anchor="middle" textLength="147.5" lengthAdjust="spacingAndGlyphs">mRNA level</text>
<path d="M1403.1 300.0C1403.2 304.7 1403.2 320.8 1403.5 328.4C1403.8 336.0 1404.2 340.5 1405.0 345.8C1405.8 351.1 1407.2 356.3 1408.2 360.3C1409.2 364.3 1410.3 367.1 1411.0 370.0C1411.7 372.9 1412.0 374.5 1412.1 377.7C1412.2 380.9 1412.2 386.4 1411.8 389.3C1411.4 392.2 1410.7 393.1 1409.7 395.0C1408.7 396.9 1406.5 399.3 1405.9 400.9C1405.3 402.5 1405.6 403.6 1406.2 404.5C1406.8 405.4 1408.1 405.9 1409.7 406.5C1411.3 407.1 1413.7 407.5 1415.7 408.0C1417.7 408.5 1420.3 408.9 1421.7 409.3C1423.1 409.7 1423.6 410.0 1424.0 410.2C1424.4 410.4 1424.0 410.5 1424.0 410.6L1381.4 410.6C1381.4 410.5 1381.0 410.4 1381.4 410.2C1381.8 410.0 1382.3 409.7 1383.7 409.3C1385.1 408.9 1387.7 408.5 1389.7 408.0C1391.7 407.5 1394.1 407.1 1395.7 406.5C1397.3 405.9 1398.6 405.4 1399.2 404.5C1399.8 403.6 1400.1 402.5 1399.5 400.9C1398.9 399.3 1396.7 396.9 1395.7 395.0C1394.7 393.1 1394.0 392.2 1393.6 389.3C1393.2 386.4 1393.2 380.9 1393.3 377.7C1393.4 374.5 1393.8 372.9 1394.4 370.0C1395.1 367.1 1396.2 364.3 1397.2 360.3C1398.2 356.3 1399.6 351.1 1400.4 345.8C1401.2 340.5 1401.6 336.0 1401.9 328.4C1402.2 320.8 1402.2 304.7 1402.3 300.0Z" fill="#666666" stroke="#2e2e2e" stroke-width="1.3" stroke-linejoin="round"/>
<path d="M1451.5 356.5C1451.6 356.8 1451.7 356.4 1452.2 358.0C1452.7 359.6 1453.8 363.7 1454.7 366.0C1455.6 368.3 1456.7 370.1 1457.7 372.0C1458.8 373.9 1460.1 376.1 1461.0 377.7C1461.9 379.3 1462.7 380.4 1463.2 381.5C1463.7 382.6 1463.9 383.0 1463.9 384.0C1463.9 385.0 1463.9 386.2 1463.4 387.5C1463.0 388.8 1461.7 390.6 1461.2 392.0C1460.7 393.4 1460.4 394.8 1460.4 395.9C1460.4 397.0 1460.7 397.6 1461.2 398.5C1461.8 399.4 1462.7 400.2 1463.7 401.3C1464.7 402.4 1466.4 403.8 1467.4 404.9C1468.4 405.9 1469.1 406.8 1469.6 407.6C1470.1 408.4 1470.2 409.0 1470.4 409.5C1470.6 410.0 1470.5 410.4 1470.5 410.6L1427.9 410.6C1427.9 410.4 1427.8 410.0 1428.0 409.5C1428.2 409.0 1428.3 408.4 1428.8 407.6C1429.3 406.8 1430.0 405.9 1431.0 404.9C1432.0 403.8 1433.7 402.4 1434.7 401.3C1435.7 400.2 1436.7 399.4 1437.2 398.5C1437.8 397.6 1438.0 397.0 1438.0 395.9C1438.0 394.8 1437.7 393.4 1437.2 392.0C1436.7 390.6 1435.5 388.8 1435.0 387.5C1434.5 386.2 1434.5 385.0 1434.5 384.0C1434.5 383.0 1434.7 382.6 1435.2 381.5C1435.7 380.4 1436.5 379.3 1437.4 377.7C1438.3 376.1 1439.7 373.9 1440.7 372.0C1441.8 370.1 1442.8 368.3 1443.7 366.0C1444.6 363.7 1445.7 359.6 1446.2 358.0C1446.7 356.4 1446.8 356.8 1446.9 356.5Z" fill="#f76d6e" stroke="#2e2e2e" stroke-width="1.3" stroke-linejoin="round"/>
<path d="M1495.6 379.7V410.4M1474.3 410.4H1516.8999999999999" fill="none" stroke="#2e2e2e" stroke-width="1.4"/>
<rect x="1558.4" y="29.8" width="23.6" height="23.4" fill="#666666" stroke="#111" stroke-width="1.5"/>
<rect x="1558.4" y="71.3" width="23.6" height="23.4" fill="#f76d6e" stroke="#111" stroke-width="1.5"/>
<rect x="1558.4" y="113.10000000000001" width="23.6" height="23.4" fill="#d4271e" stroke="#111" stroke-width="1.5"/>
<text x="1595" y="50.8" font-size="28" textLength="97.5" lengthAdjust="spacingAndGlyphs">Ciliated</text>
<text x="1595" y="92.7" font-size="28" textLength="233" lengthAdjust="spacingAndGlyphs">Ciliated/microfold</text>
<text x="1595" y="134.6" font-size="28"><tspan font-style="italic" textLength="50" lengthAdjust="spacingAndGlyphs">GP2</tspan><tspan font-size="17.5" dy="-14.5" dx="0.5">+</tspan><tspan dy="14.5" textLength="132.5" lengthAdjust="spacingAndGlyphs"> microfold</tspan></text>
<path d="M170.4 520.4V665.2H603.5M163.70000000000002 547.4H170.4M163.70000000000002 592.5H170.4M163.70000000000002 637.6H170.4M195.7 665.2v6.6M238.1 665.2v6.6M280.6 665.2v6.6M323.1 665.2v6.6M365.5 665.2v6.6M407.9 665.2v6.6M450.4 665.2v6.6M492.9 665.2v6.6M535.3 665.2v6.6M577.8 665.2v6.6" fill="none" stroke="#1c1c1c" stroke-width="1.6"/>
<text x="154.3" y="555.9" font-size="27.3" text-anchor="end" font-style="italic" textLength="104.4" lengthAdjust="spacingAndGlyphs">TNFSF11</text>
<text x="154.3" y="601.1" font-size="27.3" text-anchor="end" font-style="italic" textLength="138.4" lengthAdjust="spacingAndGlyphs">TNFRSF11A</text>
<text x="154.3" y="646.2" font-size="27.3" text-anchor="end" font-style="italic" textLength="137.3" lengthAdjust="spacingAndGlyphs">TNFRSF11B</text>
<text x="195.7" y="700.8" font-size="23.2" text-anchor="middle" textLength="14" lengthAdjust="spacingAndGlyphs">1</text>
<text x="238.1" y="700.8" font-size="23.2" text-anchor="middle" textLength="14" lengthAdjust="spacingAndGlyphs">2</text>
<text x="280.6" y="700.8" font-size="23.2" text-anchor="middle" textLength="14" lengthAdjust="spacingAndGlyphs">3</text>
<text x="323.1" y="700.8" font-size="23.2" text-anchor="middle" textLength="14" lengthAdjust="spacingAndGlyphs">4</text>
<text x="365.5" y="700.8" font-size="23.2" text-anchor="middle" textLength="14" lengthAdjust="spacingAndGlyphs">5</text>
<text x="407.9" y="700.8" font-size="23.2" text-anchor="middle" textLength="14" lengthAdjust="spacingAndGlyphs">6</text>
<text x="450.4" y="700.8" font-size="23.2" text-anchor="middle" textLength="14" lengthAdjust="spacingAndGlyphs">7</text>
<text x="492.9" y="700.8" font-size="23.2" text-anchor="middle" textLength="14" lengthAdjust="spacingAndGlyphs">8</text>
<text x="535.3" y="700.8" font-size="23.2" text-anchor="middle" textLength="14" lengthAdjust="spacingAndGlyphs">9</text>
<text x="577.8" y="700.8" font-size="23.2" text-anchor="middle" textLength="24.5" lengthAdjust="spacingAndGlyphs">10</text>
<circle cx="195.7" cy="547.4" r="4.65" fill="#c8c0d0" stroke="#0a0a0a" stroke-width="1.8"/>
<circle cx="238.1" cy="547.4" r="5.65" fill="#c8c0d0" stroke="#0a0a0a" stroke-width="1.8"/>
<circle cx="280.6" cy="547.4" r="1.65" fill="#c8c0d0" stroke="#0a0a0a" stroke-width="1.8"/>
<circle cx="323.1" cy="547.4" r="1.75" fill="#111"/>
<circle cx="365.5" cy="547.4" r="1.75" fill="#111"/>
<circle cx="407.9" cy="547.4" r="1.75" fill="#111"/>
<circle cx="450.4" cy="547.4" r="1.75" fill="#111"/>
<circle cx="492.9" cy="547.4" r="2.15" fill="#c8c0d0" stroke="#0a0a0a" stroke-width="1.8"/>
<circle cx="535.3" cy="547.4" r="1.85" fill="#c8c0d0" stroke="#0a0a0a" stroke-width="1.8"/>
<circle cx="577.8" cy="547.4" r="1.75" fill="#111"/>
<circle cx="195.7" cy="592.5" r="8.35" fill="#c8c0d0" stroke="#0a0a0a" stroke-width="1.8"/>
<circle cx="238.1" cy="592.5" r="3.45" fill="#c8c0d0" stroke="#0a0a0a" stroke-width="1.8"/>
<circle cx="280.6" cy="592.5" r="5.65" fill="#c8c0d0" stroke="#0a0a0a" stroke-width="1.8"/>
<circle cx="323.1" cy="592.5" r="13.35" fill="#c9bbdf" stroke="#0a0a0a" stroke-width="1.8"/>
<circle cx="365.5" cy="592.5" r="13.15" fill="#c4aae4" stroke="#0a0a0a" stroke-width="1.8"/>
<circle cx="407.9" cy="592.5" r="13.15" fill="#5a51ae" stroke="#0a0a0a" stroke-width="1.8"/>
<circle cx="450.4" cy="592.5" r="13.15" fill="#5a51ae" stroke="#0a0a0a" stroke-width="1.8"/>
<circle cx="492.9" cy="592.5" r="5.55" fill="#c8c0d0" stroke="#0a0a0a" stroke-width="1.8"/>
<circle cx="535.3" cy="592.5" r="4.45" fill="#c8c0d0" stroke="#0a0a0a" stroke-width="1.8"/>
<circle cx="577.8" cy="592.5" r="1.75" fill="#c8c0d0" stroke="#0a0a0a" stroke-width="1.8"/>
<circle cx="195.7" cy="637.6" r="1.75" fill="#111"/>
<circle cx="238.1" cy="637.6" r="1.75" fill="#111"/>
<circle cx="280.6" cy="637.6" r="1.75" fill="#111"/>
<circle cx="323.1" cy="637.6" r="1.75" fill="#111"/>
<circle cx="365.5" cy="637.6" r="1.75" fill="#111"/>
<circle cx="407.9" cy="637.6" r="8.25" fill="#c4aae4" stroke="#0a0a0a" stroke-width="1.8"/>
<circle cx="450.4" cy="637.6" r="13.15" fill="#ab82d6" stroke="#0a0a0a" stroke-width="1.8"/>
<circle cx="492.9" cy="637.6" r="1.75" fill="#111"/>
<circle cx="535.3" cy="637.6" r="1.75" fill="#111"/>
<circle cx="577.8" cy="637.6" r="1.75" fill="#111"/>
<defs><linearGradient id="cb" x1="0" y1="1" x2="0" y2="0"><stop offset="0" stop-color="#c6c5c7"/><stop offset="0.2" stop-color="#c3a9e3"/><stop offset="0.4" stop-color="#ab82d6"/><stop offset="0.7" stop-color="#7d5bbf"/><stop offset="1" stop-color="#5551ad"/></linearGradient></defs>
<rect x="676.2" y="576" width="28.6" height="139.2" fill="url(#cb)"/>
<text x="677.5" y="524.7" font-size="27" textLength="104" lengthAdjust="spacingAndGlyphs">Average</text>
<text x="677" y="557.7" font-size="27" textLength="136.5" lengthAdjust="spacingAndGlyphs">expression</text>
<text x="716" y="584.7" font-size="23.2" textLength="32" lengthAdjust="spacingAndGlyphs">2.5</text>
<text x="716" y="612.2" font-size="23.2" textLength="34" lengthAdjust="spacingAndGlyphs">2.0</text>
<text x="716" y="639" font-size="23.2" textLength="28" lengthAdjust="spacingAndGlyphs">1.5</text>
<text x="716" y="666.8" font-size="23.2" textLength="30" lengthAdjust="spacingAndGlyphs">1.0</text>
<text x="716" y="694.4" font-size="23.2" textLength="34" lengthAdjust="spacingAndGlyphs">0.5</text>
<text x="716" y="721.8" font-size="23.2" textLength="14.5" lengthAdjust="spacingAndGlyphs">0</text>
<text x="868.5" y="499.8" font-size="27" textLength="144" lengthAdjust="spacingAndGlyphs">Percentage</text>
<text x="868" y="532.8" font-size="27" textLength="92.5" lengthAdjust="spacingAndGlyphs">of cells</text>
<circle cx="871.6" cy="554.2" r="1.7" fill="#111"/>
<circle cx="871.6" cy="584.6" r="3.45" fill="#fff" stroke="#0a0a0a" stroke-width="1.9"/>
<circle cx="871.6" cy="615.6" r="6.15" fill="#fff" stroke="#0a0a0a" stroke-width="1.9"/>
<circle cx="871.6" cy="645.9" r="8.65" fill="#fff" stroke="#0a0a0a" stroke-width="1.9"/>
<circle cx="871.6" cy="676.8" r="10.65" fill="#fff" stroke="#0a0a0a" stroke-width="1.9"/>
<circle cx="871.6" cy="708.6" r="13.25" fill="#fff" stroke="#0a0a0a" stroke-width="1.9"/>
<text x="896.5" y="562.2" font-size="23.2" textLength="14" lengthAdjust="spacingAndGlyphs">0</text>
<text x="896.5" y="591" font-size="23.2" textLength="24.5" lengthAdjust="spacingAndGlyphs">10</text>
<text x="896.5" y="622.3" font-size="23.2" textLength="27.5" lengthAdjust="spacingAndGlyphs">20</text>
<text x="896.5" y="653.6" font-size="23.2" textLength="27.5" lengthAdjust="spacingAndGlyphs">30</text>
<text x="896.5" y="685.2" font-size="23.2" textLength="27.5" lengthAdjust="spacingAndGlyphs">40</text>
<text x="896.5" y="716.4" font-size="23.2" textLength="39.5" lengthAdjust="spacingAndGlyphs">&gt;50</text>
<text x="1068" y="582.8" font-size="26.8" textLength="89" lengthAdjust="spacingAndGlyphs">2 Basal</text>
<text x="1068" y="624.8" font-size="26.8" textLength="296.5" lengthAdjust="spacingAndGlyphs">3 Suprabasal/secretory</text>
<text x="1068" y="666.9" font-size="26.8" textLength="202" lengthAdjust="spacingAndGlyphs">4 Deuterosomal</text>
<text x="1068" y="709.0" font-size="26.8" textLength="120.5" lengthAdjust="spacingAndGlyphs">5 Ciliated</text>
<text x="1066.3" y="540.7" font-size="26.8">1</text>
<text x="1087.6" y="540.7" font-size="26.8" textLength="176" lengthAdjust="spacingAndGlyphs">Basal-dividing</text>
<text x="1405.3" y="544.8" font-size="26.9" textLength="255.8" lengthAdjust="spacingAndGlyphs">6 Ciliated/microfold</text>
<text x="1405.3" y="628.8" font-size="26.9" textLength="147.3" lengthAdjust="spacingAndGlyphs">8 Ionocytes</text>
<text x="1405.3" y="671.0" font-size="26.9" textLength="229.8" lengthAdjust="spacingAndGlyphs">9 Neuroendocrine</text>
<text x="1405.3" y="713.5" font-size="26.9" textLength="107.3" lengthAdjust="spacingAndGlyphs">10 Brush</text>
<text x="1405.3" y="586.6" font-size="26.9"><tspan textLength="21.5" lengthAdjust="spacingAndGlyphs">7 </tspan><tspan font-style="italic" textLength="49" lengthAdjust="spacingAndGlyphs">GP2</tspan><tspan font-size="16.5" dy="-13.5" dx="0.5">+</tspan><tspan dy="13.5" textLength="133" lengthAdjust="spacingAndGlyphs"> microfold</tspan></text>
</svg>
</body></html>
